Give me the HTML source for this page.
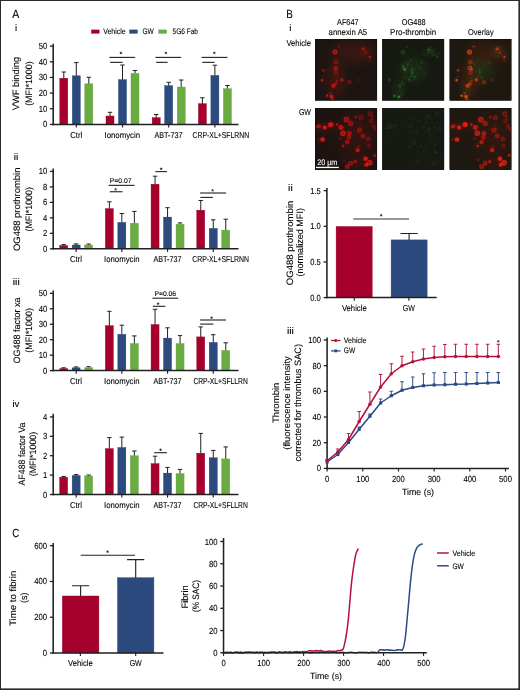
<!DOCTYPE html>
<html><head><meta charset="utf-8"><title>Figure</title>
<style>
html,body{margin:0;padding:0;background:#fff;}
svg{display:block;font-family:"Liberation Sans",sans-serif;opacity:0.999;will-change:transform;text-rendering:geometricPrecision;}
text{stroke:#000;stroke-width:0.1px;paint-order:stroke;}
</style></head><body>
<svg width="520" height="690" viewBox="0 0 520 690">
<rect x="0.5" y="0.5" width="518.75" height="688.75" fill="#fff" stroke="#2b2b2b" stroke-width="1"/>
<path d="M519.25 0V690M0 689.2H520" stroke="#2b2b2b" stroke-width="1.5" fill="none"/>
<text x="12.2" y="17.8" font-size="11.8" textLength="7" lengthAdjust="spacingAndGlyphs" fill="#000">A</text>
<text x="15.0" y="31.3" font-size="9.6" fill="#000">i</text>
<text x="13.8" y="160.2" font-size="9.6" textLength="4.6" lengthAdjust="spacingAndGlyphs" fill="#000">ii</text>
<text x="12.8" y="285.2" font-size="9.6" textLength="6.9" lengthAdjust="spacingAndGlyphs" fill="#000">iii</text>
<text x="12.4" y="406.9" font-size="9.6" fill="#000">iv</text>
<text x="12.2" y="537.0" font-size="11.8" textLength="7" lengthAdjust="spacingAndGlyphs" fill="#000">C</text>
<text x="286.2" y="17.8" font-size="11.8" textLength="6.6" lengthAdjust="spacingAndGlyphs" fill="#000">B</text>
<text x="289.3" y="31.3" font-size="9.6" fill="#000">i</text>
<text x="288.1" y="191.4" font-size="9.6" textLength="4.6" lengthAdjust="spacingAndGlyphs" fill="#000">ii</text>
<text x="286.9" y="334.0" font-size="9.6" textLength="6.9" lengthAdjust="spacingAndGlyphs" fill="#000">iii</text>
<rect x="91.40" y="29.90" width="7.80" height="3.40" fill="#A6002D" stroke="#98002a" stroke-width="0.4"/>
<text x="103.2" y="34.3" font-size="8.0" textLength="22.5" lengthAdjust="spacingAndGlyphs" fill="#000">Vehicle</text>
<rect x="129.60" y="29.90" width="7.80" height="3.40" fill="#2C4A7D" stroke="#1f3c78" stroke-width="0.4"/>
<text x="142.5" y="34.3" font-size="8.0" textLength="11.3" lengthAdjust="spacingAndGlyphs" fill="#000">GW</text>
<rect x="158.70" y="29.90" width="7.90" height="3.40" fill="#6AAC41" stroke="#5aa030" stroke-width="0.4"/>
<text x="172.5" y="34.3" font-size="8.0" textLength="25.5" lengthAdjust="spacingAndGlyphs" fill="#000">5G6 Fab</text>
<path d="M49.900000000000006 124.4L53.2 124.4" stroke="#202020" stroke-width="1.3"/>
<text x="47.2" y="127.4" font-size="8.8" text-anchor="end" textLength="4.28" lengthAdjust="spacingAndGlyphs" fill="#000">0</text>
<path d="M49.900000000000006 108.75L53.2 108.75" stroke="#202020" stroke-width="1.3"/>
<text x="47.2" y="111.75" font-size="8.8" text-anchor="end" textLength="8.56" lengthAdjust="spacingAndGlyphs" fill="#000">10</text>
<path d="M49.900000000000006 93.10000000000001L53.2 93.10000000000001" stroke="#202020" stroke-width="1.3"/>
<text x="47.2" y="96.10000000000001" font-size="8.8" text-anchor="end" textLength="8.56" lengthAdjust="spacingAndGlyphs" fill="#000">20</text>
<path d="M49.900000000000006 77.45000000000002L53.2 77.45000000000002" stroke="#202020" stroke-width="1.3"/>
<text x="47.2" y="80.45000000000002" font-size="8.8" text-anchor="end" textLength="8.56" lengthAdjust="spacingAndGlyphs" fill="#000">30</text>
<path d="M49.900000000000006 61.80000000000001L53.2 61.80000000000001" stroke="#202020" stroke-width="1.3"/>
<text x="47.2" y="64.80000000000001" font-size="8.8" text-anchor="end" textLength="8.56" lengthAdjust="spacingAndGlyphs" fill="#000">40</text>
<path d="M49.900000000000006 46.150000000000006L53.2 46.150000000000006" stroke="#202020" stroke-width="1.3"/>
<text x="47.2" y="49.150000000000006" font-size="8.8" text-anchor="end" textLength="8.56" lengthAdjust="spacingAndGlyphs" fill="#000">50</text>
<path d="M63.80 78.50V72.00M61.60 72.00H66.00" stroke="#202020" stroke-width="1" fill="none"/>
<rect x="59.80" y="78.20" width="8.00" height="46.20" fill="#A6002D" stroke="#98002a" stroke-width="0.4"/>
<path d="M76.30 76.10V62.60M74.10 62.60H78.50" stroke="#202020" stroke-width="1" fill="none"/>
<rect x="72.30" y="75.80" width="8.00" height="48.60" fill="#2C4A7D" stroke="#1f3c78" stroke-width="0.4"/>
<path d="M88.80 84.10V77.30M86.60 77.30H91.00" stroke="#202020" stroke-width="1" fill="none"/>
<rect x="84.80" y="83.80" width="8.00" height="40.60" fill="#6AAC41" stroke="#5aa030" stroke-width="0.4"/>
<path d="M76.3 124.4L76.3 127.5" stroke="#202020" stroke-width="1.15"/>
<text x="76.2" y="137.6" font-size="8.5" text-anchor="middle" textLength="12" lengthAdjust="spacingAndGlyphs" fill="#000">Ctrl</text>
<path d="M110.00 116.30V112.30M107.80 112.30H112.20" stroke="#202020" stroke-width="1" fill="none"/>
<rect x="106.00" y="116.00" width="8.00" height="8.40" fill="#A6002D" stroke="#98002a" stroke-width="0.4"/>
<path d="M122.50 80.00V65.00M120.30 65.00H124.70" stroke="#202020" stroke-width="1" fill="none"/>
<rect x="118.50" y="79.70" width="8.00" height="44.70" fill="#2C4A7D" stroke="#1f3c78" stroke-width="0.4"/>
<path d="M135.00 73.70V70.50M132.80 70.50H137.20" stroke="#202020" stroke-width="1" fill="none"/>
<rect x="131.00" y="73.40" width="8.00" height="51.00" fill="#6AAC41" stroke="#5aa030" stroke-width="0.4"/>
<path d="M122.5 124.4L122.5 127.5" stroke="#202020" stroke-width="1.15"/>
<text x="122.3" y="137.6" font-size="8.5" text-anchor="middle" textLength="35.5" lengthAdjust="spacingAndGlyphs" fill="#000">Ionomycin</text>
<path d="M156.20 118.00V114.50M154.00 114.50H158.40" stroke="#202020" stroke-width="1" fill="none"/>
<rect x="152.20" y="117.70" width="8.00" height="6.70" fill="#A6002D" stroke="#98002a" stroke-width="0.4"/>
<path d="M168.70 86.00V82.30M166.50 82.30H170.90" stroke="#202020" stroke-width="1" fill="none"/>
<rect x="164.70" y="85.70" width="8.00" height="38.70" fill="#2C4A7D" stroke="#1f3c78" stroke-width="0.4"/>
<path d="M181.20 87.30V80.00M179.00 80.00H183.40" stroke="#202020" stroke-width="1" fill="none"/>
<rect x="177.20" y="87.00" width="8.00" height="37.40" fill="#6AAC41" stroke="#5aa030" stroke-width="0.4"/>
<path d="M168.7 124.4L168.7 127.5" stroke="#202020" stroke-width="1.15"/>
<text x="168.5" y="137.6" font-size="8.5" text-anchor="middle" textLength="28" lengthAdjust="spacingAndGlyphs" fill="#000">ABT-737</text>
<path d="M202.40 104.00V97.80M200.20 97.80H204.60" stroke="#202020" stroke-width="1" fill="none"/>
<rect x="198.40" y="103.70" width="8.00" height="20.70" fill="#A6002D" stroke="#98002a" stroke-width="0.4"/>
<path d="M214.90 75.70V65.20M212.70 65.20H217.10" stroke="#202020" stroke-width="1" fill="none"/>
<rect x="210.90" y="75.40" width="8.00" height="49.00" fill="#2C4A7D" stroke="#1f3c78" stroke-width="0.4"/>
<path d="M227.40 89.00V85.50M225.20 85.50H229.60" stroke="#202020" stroke-width="1" fill="none"/>
<rect x="223.40" y="88.70" width="8.00" height="35.70" fill="#6AAC41" stroke="#5aa030" stroke-width="0.4"/>
<path d="M214.90000000000003 124.4L214.90000000000003 127.5" stroke="#202020" stroke-width="1.15"/>
<text x="220.9" y="137.6" font-size="8.5" text-anchor="middle" textLength="56.7" lengthAdjust="spacingAndGlyphs" fill="#000">CRP-XL+SFLRNN</text>
<path d="M53.2 43.8L53.2 125.15" stroke="#202020" stroke-width="1.55"/>
<path d="M52.5 124.4L238.5 124.4" stroke="#202020" stroke-width="1.5"/>
<text x="19.2" y="83.6" font-size="9.3" text-anchor="middle" textLength="53.5" lengthAdjust="spacingAndGlyphs" transform="rotate(-90 19.2 83.6)" fill="#000">VWF binding</text>
<text x="32.0" y="83.6" font-size="9.3" text-anchor="middle" textLength="44.5" lengthAdjust="spacingAndGlyphs" transform="rotate(-90 32.0 83.6)" fill="#000">(MFI*1000)</text>
<path d="M109.4 57.4L135.2 57.4" stroke="#202020" stroke-width="1.1"/>
<path d="M110.10000000000001 62.35L122.6 62.35" stroke="#202020" stroke-width="1.1"/>
<path d="M120.90 53.00L120.90 51.95M120.90 53.00L121.90 52.68M120.90 53.00L121.52 53.85M120.90 53.00L120.28 53.85M120.90 53.00L119.90 52.68" stroke="#222" stroke-width="0.6" stroke-linecap="round" fill="none"/><circle cx="120.90" cy="53.00" r="0.55" fill="#222"/>
<path d="M155.4 57.4L181.2 57.4" stroke="#202020" stroke-width="1.1"/>
<path d="M156.1 62.35L167.6 62.35" stroke="#202020" stroke-width="1.1"/>
<path d="M165.90 53.00L165.90 51.95M165.90 53.00L166.90 52.68M165.90 53.00L166.52 53.85M165.90 53.00L165.28 53.85M165.90 53.00L164.90 52.68" stroke="#222" stroke-width="0.6" stroke-linecap="round" fill="none"/><circle cx="165.90" cy="53.00" r="0.55" fill="#222"/>
<path d="M201.6 57.4L227.4 57.4" stroke="#202020" stroke-width="1.1"/>
<path d="M202.29999999999998 62.35L214.6 62.35" stroke="#202020" stroke-width="1.1"/>
<path d="M214.30 53.00L214.30 51.95M214.30 53.00L215.30 52.68M214.30 53.00L214.92 53.85M214.30 53.00L213.68 53.85M214.30 53.00L213.30 52.68" stroke="#222" stroke-width="0.6" stroke-linecap="round" fill="none"/><circle cx="214.30" cy="53.00" r="0.55" fill="#222"/>
<path d="M49.900000000000006 248.8L53.2 248.8" stroke="#202020" stroke-width="1.3"/>
<text x="47.2" y="251.8" font-size="8.8" text-anchor="end" textLength="4.28" lengthAdjust="spacingAndGlyphs" fill="#000">0</text>
<path d="M49.900000000000006 233.32000000000002L53.2 233.32000000000002" stroke="#202020" stroke-width="1.3"/>
<text x="47.2" y="236.32000000000002" font-size="8.8" text-anchor="end" textLength="4.28" lengthAdjust="spacingAndGlyphs" fill="#000">2</text>
<path d="M49.900000000000006 217.84L53.2 217.84" stroke="#202020" stroke-width="1.3"/>
<text x="47.2" y="220.84" font-size="8.8" text-anchor="end" textLength="4.28" lengthAdjust="spacingAndGlyphs" fill="#000">4</text>
<path d="M49.900000000000006 202.36L53.2 202.36" stroke="#202020" stroke-width="1.3"/>
<text x="47.2" y="205.36" font-size="8.8" text-anchor="end" textLength="4.28" lengthAdjust="spacingAndGlyphs" fill="#000">6</text>
<path d="M49.900000000000006 186.88L53.2 186.88" stroke="#202020" stroke-width="1.3"/>
<text x="47.2" y="189.88" font-size="8.8" text-anchor="end" textLength="4.28" lengthAdjust="spacingAndGlyphs" fill="#000">8</text>
<path d="M49.900000000000006 171.4L53.2 171.4" stroke="#202020" stroke-width="1.3"/>
<text x="47.2" y="174.4" font-size="8.8" text-anchor="end" textLength="8.56" lengthAdjust="spacingAndGlyphs" fill="#000">10</text>
<path d="M63.65 245.80V244.60M61.45 244.60H65.85" stroke="#202020" stroke-width="1" fill="none"/>
<rect x="59.65" y="245.50" width="8.00" height="3.30" fill="#A6002D" stroke="#98002a" stroke-width="0.4"/>
<path d="M76.15 245.30V243.90M73.95 243.90H78.35" stroke="#202020" stroke-width="1" fill="none"/>
<rect x="72.15" y="245.00" width="8.00" height="3.80" fill="#2C4A7D" stroke="#1f3c78" stroke-width="0.4"/>
<path d="M88.65 245.30V244.00M86.45 244.00H90.85" stroke="#202020" stroke-width="1" fill="none"/>
<rect x="84.65" y="245.00" width="8.00" height="3.80" fill="#6AAC41" stroke="#5aa030" stroke-width="0.4"/>
<path d="M76.15 248.8L76.15 251.9" stroke="#202020" stroke-width="1.15"/>
<text x="75.9" y="262.0" font-size="8.5" text-anchor="middle" textLength="12" lengthAdjust="spacingAndGlyphs" fill="#000">Ctrl</text>
<path d="M109.35 208.90V201.80M107.15 201.80H111.55" stroke="#202020" stroke-width="1" fill="none"/>
<rect x="105.35" y="208.60" width="8.00" height="40.20" fill="#A6002D" stroke="#98002a" stroke-width="0.4"/>
<path d="M121.85 222.70V213.50M119.65 213.50H124.05" stroke="#202020" stroke-width="1" fill="none"/>
<rect x="117.85" y="222.40" width="8.00" height="26.40" fill="#2C4A7D" stroke="#1f3c78" stroke-width="0.4"/>
<path d="M134.35 223.50V211.40M132.15 211.40H136.55" stroke="#202020" stroke-width="1" fill="none"/>
<rect x="130.35" y="223.20" width="8.00" height="25.60" fill="#6AAC41" stroke="#5aa030" stroke-width="0.4"/>
<path d="M121.85000000000001 248.8L121.85000000000001 251.9" stroke="#202020" stroke-width="1.15"/>
<text x="121.8" y="262.0" font-size="8.5" text-anchor="middle" textLength="35.5" lengthAdjust="spacingAndGlyphs" fill="#000">Ionomycin</text>
<path d="M155.05 184.50V176.20M152.85 176.20H157.25" stroke="#202020" stroke-width="1" fill="none"/>
<rect x="151.05" y="184.20" width="8.00" height="64.60" fill="#A6002D" stroke="#98002a" stroke-width="0.4"/>
<path d="M167.55 217.40V207.70M165.35 207.70H169.75" stroke="#202020" stroke-width="1" fill="none"/>
<rect x="163.55" y="217.10" width="8.00" height="31.70" fill="#2C4A7D" stroke="#1f3c78" stroke-width="0.4"/>
<path d="M180.05 224.60V222.90M177.85 222.90H182.25" stroke="#202020" stroke-width="1" fill="none"/>
<rect x="176.05" y="224.30" width="8.00" height="24.50" fill="#6AAC41" stroke="#5aa030" stroke-width="0.4"/>
<path d="M167.55 248.8L167.55 251.9" stroke="#202020" stroke-width="1.15"/>
<text x="167.5" y="262.0" font-size="8.5" text-anchor="middle" textLength="28" lengthAdjust="spacingAndGlyphs" fill="#000">ABT-737</text>
<path d="M200.75 210.50V200.50M198.55 200.50H202.95" stroke="#202020" stroke-width="1" fill="none"/>
<rect x="196.75" y="210.20" width="8.00" height="38.60" fill="#A6002D" stroke="#98002a" stroke-width="0.4"/>
<path d="M213.25 228.70V219.80M211.05 219.80H215.45" stroke="#202020" stroke-width="1" fill="none"/>
<rect x="209.25" y="228.40" width="8.00" height="20.40" fill="#2C4A7D" stroke="#1f3c78" stroke-width="0.4"/>
<path d="M225.75 230.40V219.20M223.55 219.20H227.95" stroke="#202020" stroke-width="1" fill="none"/>
<rect x="221.75" y="230.10" width="8.00" height="18.70" fill="#6AAC41" stroke="#5aa030" stroke-width="0.4"/>
<path d="M213.25000000000003 248.8L213.25000000000003 251.9" stroke="#202020" stroke-width="1.15"/>
<text x="220.6" y="262.0" font-size="8.5" text-anchor="middle" textLength="56.7" lengthAdjust="spacingAndGlyphs" fill="#000">CRP-XL+SFLRNN</text>
<path d="M53.2 168.6L53.2 249.55" stroke="#202020" stroke-width="1.55"/>
<path d="M52.5 248.8L238.5 248.8" stroke="#202020" stroke-width="1.5"/>
<text x="19.9" y="209.3" font-size="9.3" text-anchor="middle" textLength="83.5" lengthAdjust="spacingAndGlyphs" transform="rotate(-90 19.9 209.3)" fill="#000">OG488 prothrombin</text>
<text x="31.8" y="209.3" font-size="9.3" text-anchor="middle" textLength="44.5" lengthAdjust="spacingAndGlyphs" transform="rotate(-90 31.8 209.3)" fill="#000">(MFI*1000)</text>
<text x="109.8" y="182.6" font-size="6.9" textLength="21.8" lengthAdjust="spacingAndGlyphs" fill="#000">P=0.07</text>
<path d="M108.7 185.35L134.6 185.35" stroke="#202020" stroke-width="1.1"/>
<path d="M109.8 191.75L122.5 191.75" stroke="#202020" stroke-width="1.1"/>
<path d="M115.60 189.40L115.60 188.35M115.60 189.40L116.60 189.08M115.60 189.40L116.22 190.25M115.60 189.40L114.98 190.25M115.60 189.40L114.60 189.08" stroke="#222" stroke-width="0.6" stroke-linecap="round" fill="none"/><circle cx="115.60" cy="189.40" r="0.55" fill="#222"/>
<path d="M155.4 171.6L166.9 171.6" stroke="#202020" stroke-width="1.1"/>
<path d="M161.20 168.80L161.20 167.75M161.20 168.80L162.20 168.48M161.20 168.80L161.82 169.65M161.20 168.80L160.58 169.65M161.20 168.80L160.20 168.48" stroke="#222" stroke-width="0.6" stroke-linecap="round" fill="none"/><circle cx="161.20" cy="168.80" r="0.55" fill="#222"/>
<path d="M200.1 193.0L226.1 193.0" stroke="#202020" stroke-width="1.1"/>
<path d="M200.4 197.4L212.9 197.4" stroke="#202020" stroke-width="1.1"/>
<path d="M212.60 190.40L212.60 189.35M212.60 190.40L213.60 190.08M212.60 190.40L213.22 191.25M212.60 190.40L211.98 191.25M212.60 190.40L211.60 190.08" stroke="#222" stroke-width="0.6" stroke-linecap="round" fill="none"/><circle cx="212.60" cy="190.40" r="0.55" fill="#222"/>
<path d="M49.900000000000006 370.6L53.2 370.6" stroke="#202020" stroke-width="1.3"/>
<text x="47.2" y="373.6" font-size="8.8" text-anchor="end" textLength="4.28" lengthAdjust="spacingAndGlyphs" fill="#000">0</text>
<path d="M49.900000000000006 355.15000000000003L53.2 355.15000000000003" stroke="#202020" stroke-width="1.3"/>
<text x="47.2" y="358.15000000000003" font-size="8.8" text-anchor="end" textLength="8.56" lengthAdjust="spacingAndGlyphs" fill="#000">10</text>
<path d="M49.900000000000006 339.70000000000005L53.2 339.70000000000005" stroke="#202020" stroke-width="1.3"/>
<text x="47.2" y="342.70000000000005" font-size="8.8" text-anchor="end" textLength="8.56" lengthAdjust="spacingAndGlyphs" fill="#000">20</text>
<path d="M49.900000000000006 324.25L53.2 324.25" stroke="#202020" stroke-width="1.3"/>
<text x="47.2" y="327.25" font-size="8.8" text-anchor="end" textLength="8.56" lengthAdjust="spacingAndGlyphs" fill="#000">30</text>
<path d="M49.900000000000006 308.8L53.2 308.8" stroke="#202020" stroke-width="1.3"/>
<text x="47.2" y="311.8" font-size="8.8" text-anchor="end" textLength="8.56" lengthAdjust="spacingAndGlyphs" fill="#000">40</text>
<path d="M49.900000000000006 293.35L53.2 293.35" stroke="#202020" stroke-width="1.3"/>
<text x="47.2" y="296.35" font-size="8.8" text-anchor="end" textLength="8.56" lengthAdjust="spacingAndGlyphs" fill="#000">50</text>
<path d="M63.65 368.80V367.80M61.45 367.80H65.85" stroke="#202020" stroke-width="1" fill="none"/>
<rect x="59.45" y="368.30" width="8.40" height="2.30" fill="#A6002D"/>
<path d="M76.15 368.00V366.90M73.95 366.90H78.35" stroke="#202020" stroke-width="1" fill="none"/>
<rect x="71.95" y="367.50" width="8.40" height="3.10" fill="#2C4A7D"/>
<path d="M88.65 367.80V366.70M86.45 366.70H90.85" stroke="#202020" stroke-width="1" fill="none"/>
<rect x="84.45" y="367.30" width="8.40" height="3.30" fill="#6AAC41"/>
<path d="M76.15 370.6L76.15 373.70000000000005" stroke="#202020" stroke-width="1.15"/>
<text x="75.9" y="383.8" font-size="8.5" text-anchor="middle" textLength="12" lengthAdjust="spacingAndGlyphs" fill="#000">Ctrl</text>
<path d="M109.35 326.00V311.30M107.15 311.30H111.55" stroke="#202020" stroke-width="1" fill="none"/>
<rect x="105.35" y="325.70" width="8.00" height="44.90" fill="#A6002D" stroke="#98002a" stroke-width="0.4"/>
<path d="M121.85 334.60V325.20M119.65 325.20H124.05" stroke="#202020" stroke-width="1" fill="none"/>
<rect x="117.85" y="334.30" width="8.00" height="36.30" fill="#2C4A7D" stroke="#1f3c78" stroke-width="0.4"/>
<path d="M134.35 343.90V335.90M132.15 335.90H136.55" stroke="#202020" stroke-width="1" fill="none"/>
<rect x="130.35" y="343.60" width="8.00" height="27.00" fill="#6AAC41" stroke="#5aa030" stroke-width="0.4"/>
<path d="M121.85000000000001 370.6L121.85000000000001 373.70000000000005" stroke="#202020" stroke-width="1.15"/>
<text x="121.8" y="383.8" font-size="8.5" text-anchor="middle" textLength="35.5" lengthAdjust="spacingAndGlyphs" fill="#000">Ionomycin</text>
<path d="M155.05 324.80V309.30M152.85 309.30H157.25" stroke="#202020" stroke-width="1" fill="none"/>
<rect x="151.05" y="324.50" width="8.00" height="46.10" fill="#A6002D" stroke="#98002a" stroke-width="0.4"/>
<path d="M167.55 338.40V327.80M165.35 327.80H169.75" stroke="#202020" stroke-width="1" fill="none"/>
<rect x="163.55" y="338.10" width="8.00" height="32.50" fill="#2C4A7D" stroke="#1f3c78" stroke-width="0.4"/>
<path d="M180.05 343.90V335.60M177.85 335.60H182.25" stroke="#202020" stroke-width="1" fill="none"/>
<rect x="176.05" y="343.60" width="8.00" height="27.00" fill="#6AAC41" stroke="#5aa030" stroke-width="0.4"/>
<path d="M167.55 370.6L167.55 373.70000000000005" stroke="#202020" stroke-width="1.15"/>
<text x="167.5" y="383.8" font-size="8.5" text-anchor="middle" textLength="28" lengthAdjust="spacingAndGlyphs" fill="#000">ABT-737</text>
<path d="M200.75 337.20V326.90M198.55 326.90H202.95" stroke="#202020" stroke-width="1" fill="none"/>
<rect x="196.75" y="336.90" width="8.00" height="33.70" fill="#A6002D" stroke="#98002a" stroke-width="0.4"/>
<path d="M213.25 342.70V334.70M211.05 334.70H215.45" stroke="#202020" stroke-width="1" fill="none"/>
<rect x="209.25" y="342.40" width="8.00" height="28.20" fill="#2C4A7D" stroke="#1f3c78" stroke-width="0.4"/>
<path d="M225.75 350.80V342.80M223.55 342.80H227.95" stroke="#202020" stroke-width="1" fill="none"/>
<rect x="221.75" y="350.50" width="8.00" height="20.10" fill="#6AAC41" stroke="#5aa030" stroke-width="0.4"/>
<path d="M213.25000000000003 370.6L213.25000000000003 373.70000000000005" stroke="#202020" stroke-width="1.15"/>
<text x="220.6" y="383.8" font-size="8.5" text-anchor="middle" textLength="54.4" lengthAdjust="spacingAndGlyphs" fill="#000">CRP-XL+SFLLRN</text>
<path d="M53.2 290.5L53.2 371.35" stroke="#202020" stroke-width="1.55"/>
<path d="M52.5 370.6L238.5 370.6" stroke="#202020" stroke-width="1.5"/>
<text x="19.6" y="330.4" font-size="9.3" text-anchor="middle" textLength="66" lengthAdjust="spacingAndGlyphs" transform="rotate(-90 19.6 330.4)" fill="#000">OG488 factor xa</text>
<text x="32.0" y="330.4" font-size="9.3" text-anchor="middle" textLength="44.5" lengthAdjust="spacingAndGlyphs" transform="rotate(-90 32.0 330.4)" fill="#000">(MFI*1000)</text>
<text x="154.6" y="296.3" font-size="6.9" textLength="21.5" lengthAdjust="spacingAndGlyphs" fill="#000">P=0.06</text>
<path d="M152.4 298.2L178.1 298.2" stroke="#202020" stroke-width="1.1"/>
<path d="M152.8 306.3L165.4 306.3" stroke="#202020" stroke-width="1.1"/>
<path d="M158.10 303.70L158.10 302.65M158.10 303.70L159.10 303.38M158.10 303.70L158.72 304.55M158.10 303.70L157.48 304.55M158.10 303.70L157.10 303.38" stroke="#222" stroke-width="0.6" stroke-linecap="round" fill="none"/><circle cx="158.10" cy="303.70" r="0.55" fill="#222"/>
<path d="M200.1 320.0L226.0 320.0" stroke="#202020" stroke-width="1.1"/>
<path d="M200.1 324.1L213.4 324.1" stroke="#202020" stroke-width="1.1"/>
<path d="M211.60 317.70L211.60 316.65M211.60 317.70L212.60 317.38M211.60 317.70L212.22 318.55M211.60 317.70L210.98 318.55M211.60 317.70L210.60 317.38" stroke="#222" stroke-width="0.6" stroke-linecap="round" fill="none"/><circle cx="211.60" cy="317.70" r="0.55" fill="#222"/>
<path d="M49.900000000000006 494.5L53.2 494.5" stroke="#202020" stroke-width="1.3"/>
<text x="47.2" y="497.5" font-size="8.8" text-anchor="end" textLength="4.28" lengthAdjust="spacingAndGlyphs" fill="#000">0</text>
<path d="M49.900000000000006 475.1L53.2 475.1" stroke="#202020" stroke-width="1.3"/>
<text x="47.2" y="478.1" font-size="8.8" text-anchor="end" textLength="4.28" lengthAdjust="spacingAndGlyphs" fill="#000">1</text>
<path d="M49.900000000000006 455.7L53.2 455.7" stroke="#202020" stroke-width="1.3"/>
<text x="47.2" y="458.7" font-size="8.8" text-anchor="end" textLength="4.28" lengthAdjust="spacingAndGlyphs" fill="#000">2</text>
<path d="M49.900000000000006 436.3L53.2 436.3" stroke="#202020" stroke-width="1.3"/>
<text x="47.2" y="439.3" font-size="8.8" text-anchor="end" textLength="4.28" lengthAdjust="spacingAndGlyphs" fill="#000">3</text>
<path d="M49.900000000000006 416.9L53.2 416.9" stroke="#202020" stroke-width="1.3"/>
<text x="47.2" y="419.9" font-size="8.8" text-anchor="end" textLength="4.28" lengthAdjust="spacingAndGlyphs" fill="#000">4</text>
<path d="M63.65 477.50V476.40M61.45 476.40H65.85" stroke="#202020" stroke-width="1" fill="none"/>
<rect x="59.65" y="477.20" width="8.00" height="17.30" fill="#A6002D" stroke="#98002a" stroke-width="0.4"/>
<path d="M76.15 475.80V474.60M73.95 474.60H78.35" stroke="#202020" stroke-width="1" fill="none"/>
<rect x="72.15" y="475.50" width="8.00" height="19.00" fill="#2C4A7D" stroke="#1f3c78" stroke-width="0.4"/>
<path d="M88.65 476.20V475.00M86.45 475.00H90.85" stroke="#202020" stroke-width="1" fill="none"/>
<rect x="84.65" y="475.90" width="8.00" height="18.60" fill="#6AAC41" stroke="#5aa030" stroke-width="0.4"/>
<path d="M76.15 494.5L76.15 497.6" stroke="#202020" stroke-width="1.15"/>
<text x="75.9" y="507.7" font-size="8.5" text-anchor="middle" textLength="12" lengthAdjust="spacingAndGlyphs" fill="#000">Ctrl</text>
<path d="M109.35 448.90V437.60M107.15 437.60H111.55" stroke="#202020" stroke-width="1" fill="none"/>
<rect x="105.35" y="448.60" width="8.00" height="45.90" fill="#A6002D" stroke="#98002a" stroke-width="0.4"/>
<path d="M121.85 447.80V437.10M119.65 437.10H124.05" stroke="#202020" stroke-width="1" fill="none"/>
<rect x="117.85" y="447.50" width="8.00" height="47.00" fill="#2C4A7D" stroke="#1f3c78" stroke-width="0.4"/>
<path d="M134.35 456.10V451.00M132.15 451.00H136.55" stroke="#202020" stroke-width="1" fill="none"/>
<rect x="130.35" y="455.80" width="8.00" height="38.70" fill="#6AAC41" stroke="#5aa030" stroke-width="0.4"/>
<path d="M121.85000000000001 494.5L121.85000000000001 497.6" stroke="#202020" stroke-width="1.15"/>
<text x="121.8" y="507.7" font-size="8.5" text-anchor="middle" textLength="35.5" lengthAdjust="spacingAndGlyphs" fill="#000">Ionomycin</text>
<path d="M155.05 463.90V456.20M152.85 456.20H157.25" stroke="#202020" stroke-width="1" fill="none"/>
<rect x="151.05" y="463.60" width="8.00" height="30.90" fill="#A6002D" stroke="#98002a" stroke-width="0.4"/>
<path d="M167.55 473.40V467.40M165.35 467.40H169.75" stroke="#202020" stroke-width="1" fill="none"/>
<rect x="163.55" y="473.10" width="8.00" height="21.40" fill="#2C4A7D" stroke="#1f3c78" stroke-width="0.4"/>
<path d="M180.05 474.00V469.40M177.85 469.40H182.25" stroke="#202020" stroke-width="1" fill="none"/>
<rect x="176.05" y="473.70" width="8.00" height="20.80" fill="#6AAC41" stroke="#5aa030" stroke-width="0.4"/>
<path d="M167.55 494.5L167.55 497.6" stroke="#202020" stroke-width="1.15"/>
<text x="167.5" y="507.7" font-size="8.5" text-anchor="middle" textLength="28" lengthAdjust="spacingAndGlyphs" fill="#000">ABT-737</text>
<path d="M200.75 453.50V433.40M198.55 433.40H202.95" stroke="#202020" stroke-width="1" fill="none"/>
<rect x="196.75" y="453.20" width="8.00" height="41.30" fill="#A6002D" stroke="#98002a" stroke-width="0.4"/>
<path d="M213.25 458.10V450.40M211.05 450.40H215.45" stroke="#202020" stroke-width="1" fill="none"/>
<rect x="209.25" y="457.80" width="8.00" height="36.70" fill="#2C4A7D" stroke="#1f3c78" stroke-width="0.4"/>
<path d="M225.75 459.20V446.90M223.55 446.90H227.95" stroke="#202020" stroke-width="1" fill="none"/>
<rect x="221.75" y="458.90" width="8.00" height="35.60" fill="#6AAC41" stroke="#5aa030" stroke-width="0.4"/>
<path d="M213.25000000000003 494.5L213.25000000000003 497.6" stroke="#202020" stroke-width="1.15"/>
<text x="220.6" y="507.7" font-size="8.5" text-anchor="middle" textLength="54.4" lengthAdjust="spacingAndGlyphs" fill="#000">CRP-XL+SFLLRN</text>
<path d="M53.2 413.8L53.2 495.25" stroke="#202020" stroke-width="1.55"/>
<path d="M52.5 494.5L238.5 494.5" stroke="#202020" stroke-width="1.5"/>
<text x="24.5" y="454.0" font-size="9.3" text-anchor="middle" textLength="63" lengthAdjust="spacingAndGlyphs" transform="rotate(-90 24.5 454.0)" fill="#000">AF488 factor Va</text>
<text x="36.0" y="454.0" font-size="9.3" text-anchor="middle" textLength="44.5" lengthAdjust="spacingAndGlyphs" transform="rotate(-90 36.0 454.0)" fill="#000">(MFI*1000)</text>
<path d="M154.2 452.7L166.9 452.7" stroke="#202020" stroke-width="1.1"/>
<path d="M160.60 449.80L160.60 448.75M160.60 449.80L161.60 449.48M160.60 449.80L161.22 450.65M160.60 449.80L159.98 450.65M160.60 449.80L159.60 449.48" stroke="#222" stroke-width="0.6" stroke-linecap="round" fill="none"/><circle cx="160.60" cy="449.80" r="0.55" fill="#222"/>
<path d="M49.900000000000006 653.0L53.2 653.0" stroke="#202020" stroke-width="1.3"/>
<text x="47.1" y="656.0" font-size="8.8" text-anchor="end" textLength="4.28" lengthAdjust="spacingAndGlyphs" fill="#000">0</text>
<path d="M49.900000000000006 617.23L53.2 617.23" stroke="#202020" stroke-width="1.3"/>
<text x="47.1" y="620.23" font-size="8.8" text-anchor="end" textLength="12.84" lengthAdjust="spacingAndGlyphs" fill="#000">200</text>
<path d="M49.900000000000006 581.46L53.2 581.46" stroke="#202020" stroke-width="1.3"/>
<text x="47.1" y="584.46" font-size="8.8" text-anchor="end" textLength="12.84" lengthAdjust="spacingAndGlyphs" fill="#000">400</text>
<path d="M49.900000000000006 545.69L53.2 545.69" stroke="#202020" stroke-width="1.3"/>
<text x="47.1" y="548.69" font-size="8.8" text-anchor="end" textLength="12.84" lengthAdjust="spacingAndGlyphs" fill="#000">600</text>
<path d="M80.60 596.30V585.70M72.00 585.70H89.20" stroke="#202020" stroke-width="1.1" fill="none"/>
<rect x="62.30" y="596.00" width="36.60" height="57.00" fill="#A6002D" stroke="#98002a" stroke-width="0.4"/>
<path d="M135.70 578.00V559.60M127.10 559.60H144.30" stroke="#202020" stroke-width="1.1" fill="none"/>
<rect x="117.50" y="577.70" width="36.40" height="75.30" fill="#2C4A7D" stroke="#1f3c78" stroke-width="0.4"/>
<path d="M80.4 653.0L80.4 656.1" stroke="#202020" stroke-width="1.15"/>
<text x="80.4" y="666.2" font-size="8.5" text-anchor="middle" textLength="24.8" lengthAdjust="spacingAndGlyphs" fill="#000">Vehicle</text>
<path d="M135.7 653.0L135.7 656.1" stroke="#202020" stroke-width="1.15"/>
<text x="135.7" y="666.2" font-size="8.5" text-anchor="middle" textLength="12.1" lengthAdjust="spacingAndGlyphs" fill="#000">GW</text>
<path d="M53.2 542.9L53.2 653.75" stroke="#202020" stroke-width="1.55"/>
<path d="M52.5 653.0L163.5 653.0" stroke="#202020" stroke-width="1.5"/>
<text x="15.6" y="598.3" font-size="9.3" text-anchor="middle" textLength="55.2" lengthAdjust="spacingAndGlyphs" transform="rotate(-90 15.6 598.3)" fill="#000">Time to fibrin</text>
<text x="27.2" y="597.8" font-size="9.3" text-anchor="middle" textLength="10.5" lengthAdjust="spacingAndGlyphs" transform="rotate(-90 27.2 597.8)" fill="#000">(s)</text>
<path d="M80.7 555.3L135.0 555.3" stroke="#202020" stroke-width="1.1"/>
<path d="M107.60 551.70L107.60 550.65M107.60 551.70L108.60 551.38M107.60 551.70L108.22 552.55M107.60 551.70L106.98 552.55M107.60 551.70L106.60 551.38" stroke="#222" stroke-width="0.6" stroke-linecap="round" fill="none"/><circle cx="107.60" cy="551.70" r="0.55" fill="#222"/>
<path d="M323.59999999999997 297.6L326.9 297.6" stroke="#202020" stroke-width="1.3"/>
<text x="320.79999999999995" y="300.6" font-size="8.8" text-anchor="end" textLength="10.56" lengthAdjust="spacingAndGlyphs" fill="#000">0.0</text>
<path d="M323.59999999999997 261.95000000000005L326.9 261.95000000000005" stroke="#202020" stroke-width="1.3"/>
<text x="320.79999999999995" y="264.95000000000005" font-size="8.8" text-anchor="end" textLength="10.56" lengthAdjust="spacingAndGlyphs" fill="#000">0.5</text>
<path d="M323.59999999999997 226.3L326.9 226.3" stroke="#202020" stroke-width="1.3"/>
<text x="320.79999999999995" y="229.3" font-size="8.8" text-anchor="end" textLength="10.56" lengthAdjust="spacingAndGlyphs" fill="#000">1.0</text>
<path d="M323.59999999999997 190.65000000000003L326.9 190.65000000000003" stroke="#202020" stroke-width="1.3"/>
<text x="320.79999999999995" y="193.65000000000003" font-size="8.8" text-anchor="end" textLength="10.56" lengthAdjust="spacingAndGlyphs" fill="#000">1.5</text>
<rect x="336.10" y="226.50" width="36.10" height="71.10" fill="#A6002D" stroke="#98002a" stroke-width="0.4"/>
<path d="M409.10 240.20V233.50M400.50 233.50H417.70" stroke="#202020" stroke-width="1.1" fill="none"/>
<rect x="391.10" y="239.90" width="36.00" height="57.70" fill="#2C4A7D" stroke="#1f3c78" stroke-width="0.4"/>
<path d="M354.3 297.6L354.3 300.70000000000005" stroke="#202020" stroke-width="1.15"/>
<text x="354.3" y="310.8" font-size="8.5" text-anchor="middle" textLength="24.8" lengthAdjust="spacingAndGlyphs" fill="#000">Vehicle</text>
<path d="M408.9 297.6L408.9 300.70000000000005" stroke="#202020" stroke-width="1.15"/>
<text x="408.9" y="310.8" font-size="8.5" text-anchor="middle" textLength="12.1" lengthAdjust="spacingAndGlyphs" fill="#000">GW</text>
<path d="M326.9 188.1L326.9 298.35" stroke="#202020" stroke-width="1.55"/>
<path d="M326.2 297.6L436.7 297.6" stroke="#202020" stroke-width="1.5"/>
<text x="293.4" y="242.9" font-size="9.3" text-anchor="middle" textLength="84.5" lengthAdjust="spacingAndGlyphs" transform="rotate(-90 293.4 242.9)" fill="#000">OG488 prothrombin</text>
<text x="303.4" y="242.3" font-size="9.3" text-anchor="middle" textLength="68.5" lengthAdjust="spacingAndGlyphs" transform="rotate(-90 303.4 242.3)" fill="#000">(normalized MFI)</text>
<path d="M353.2 219.0L409.0 219.0" stroke="#333" stroke-width="1.1"/>
<path d="M381.20 215.30L381.20 214.25M381.20 215.30L382.20 214.98M381.20 215.30L381.82 216.15M381.20 215.30L380.58 216.15M381.20 215.30L380.20 214.98" stroke="#222" stroke-width="0.6" stroke-linecap="round" fill="none"/><circle cx="381.20" cy="215.30" r="0.55" fill="#222"/>
<defs>
<filter id="b1" x="-50%" y="-50%" width="200%" height="200%"><feGaussianBlur stdDeviation="0.6"/></filter>
<filter id="b2" x="-50%" y="-50%" width="200%" height="200%"><feGaussianBlur stdDeviation="1.3"/></filter>
<filter id="b5" x="-50%" y="-50%" width="200%" height="200%"><feGaussianBlur stdDeviation="4.5"/></filter>
<filter id="b3" x="-50%" y="-50%" width="200%" height="200%"><feGaussianBlur stdDeviation="0.75"/></filter>
<clipPath id="cp"><rect x="0" y="0" width="62.2" height="61.8"/></clipPath>
</defs>
<g transform="translate(315.0 39.0)"><g clip-path="url(#cp)"><rect x="0" y="0" width="62.2" height="61.8" fill="#1d1512"/>
<radialGradient id="hz1"><stop offset="0" stop-color="rgb(125,30,15)" stop-opacity="0.3"/><stop offset="0.55" stop-color="rgb(125,30,15)" stop-opacity="0.165"/><stop offset="1" stop-color="rgb(125,30,15)" stop-opacity="0"/></radialGradient><ellipse cx="38" cy="14" rx="28" ry="16" fill="url(#hz1)"/><radialGradient id="hz2"><stop offset="0" stop-color="rgb(125,25,15)" stop-opacity="0.36"/><stop offset="0.55" stop-color="rgb(125,25,15)" stop-opacity="0.198"/><stop offset="1" stop-color="rgb(125,25,15)" stop-opacity="0"/></radialGradient><ellipse cx="21" cy="40" rx="13" ry="25" fill="url(#hz2)"/><radialGradient id="hz3"><stop offset="0" stop-color="rgb(125,25,15)" stop-opacity="0.2"/><stop offset="0.55" stop-color="rgb(125,25,15)" stop-opacity="0.110"/><stop offset="1" stop-color="rgb(125,25,15)" stop-opacity="0"/></radialGradient><ellipse cx="50" cy="14" rx="9" ry="9" fill="url(#hz3)"/>
<g filter="url(#b2)"><circle cx="20" cy="13.1" r="2.63" fill="rgb(200,20,20)" fill-opacity="0.27"/><circle cx="23.9" cy="7.3" r="1.87" fill="rgb(200,20,20)" fill-opacity="0.14"/><circle cx="48.1" cy="9.8" r="2.38" fill="rgb(200,20,20)" fill-opacity="0.21"/><circle cx="54.9" cy="18" r="1.78" fill="rgb(200,20,20)" fill-opacity="0.30"/><circle cx="55" cy="21.3" r="1.87" fill="rgb(200,20,20)" fill-opacity="0.09"/><circle cx="21" cy="22.9" r="2.46" fill="rgb(200,20,20)" fill-opacity="0.14"/><circle cx="20.7" cy="29.2" r="2.46" fill="rgb(200,20,20)" fill-opacity="0.22"/><circle cx="20.9" cy="33.7" r="2.46" fill="rgb(200,20,20)" fill-opacity="0.12"/><circle cx="8.6" cy="31.4" r="1.95" fill="rgb(200,20,20)" fill-opacity="0.21"/><circle cx="7.1" cy="41.2" r="1.95" fill="rgb(200,20,20)" fill-opacity="0.30"/><circle cx="8.2" cy="37.7" r="1.53" fill="rgb(200,20,20)" fill-opacity="0.12"/><circle cx="26.9" cy="40.7" r="2.29" fill="rgb(200,20,20)" fill-opacity="0.26"/><circle cx="34.4" cy="43.2" r="2.29" fill="rgb(200,20,20)" fill-opacity="0.14"/><circle cx="22" cy="42.2" r="2.12" fill="rgb(200,20,20)" fill-opacity="0.12"/><circle cx="18.4" cy="46.8" r="2.80" fill="rgb(200,20,20)" fill-opacity="0.26"/><circle cx="20.7" cy="44.9" r="2.12" fill="rgb(200,20,20)" fill-opacity="0.18"/><circle cx="12.2" cy="56.6" r="1.95" fill="rgb(200,20,20)" fill-opacity="0.30"/><circle cx="16.5" cy="57.5" r="2.63" fill="rgb(200,20,20)" fill-opacity="0.28"/><circle cx="15.4" cy="54" r="2.04" fill="rgb(200,20,20)" fill-opacity="0.14"/><circle cx="17.5" cy="60.5" r="2.12" fill="rgb(200,20,20)" fill-opacity="0.24"/><circle cx="61.9" cy="57.9" r="1.53" fill="rgb(200,20,20)" fill-opacity="0.18"/><circle cx="50.5" cy="13.5" r="1.95" fill="rgb(200,20,20)" fill-opacity="0.09"/><circle cx="43" cy="41" r="2.04" fill="rgb(200,20,20)" fill-opacity="0.06"/></g>
<g filter="url(#b3)"><circle cx="20" cy="13.1" r="1.95" fill="rgb(205,24,24)" fill-opacity="0.36" stroke="rgb(205,24,24)" stroke-opacity="0.79" stroke-width="1.2"/><circle cx="23.9" cy="7.3" r="1.10" fill="rgb(205,24,24)" fill-opacity="0.40"/><circle cx="48.1" cy="9.8" r="1.61" fill="rgb(205,24,24)" fill-opacity="0.62"/><circle cx="54.9" cy="18" r="1.02" fill="rgb(205,24,24)" fill-opacity="0.88"/><circle cx="55" cy="21.3" r="1.10" fill="rgb(205,24,24)" fill-opacity="0.26"/><circle cx="21" cy="22.9" r="1.75" fill="rgb(205,24,24)" fill-opacity="0.18" stroke="rgb(205,24,24)" stroke-opacity="0.40" stroke-width="1.2"/><circle cx="20.7" cy="29.2" r="1.75" fill="rgb(205,24,24)" fill-opacity="0.30" stroke="rgb(205,24,24)" stroke-opacity="0.66" stroke-width="1.2"/><circle cx="20.9" cy="33.7" r="1.75" fill="rgb(205,24,24)" fill-opacity="0.16" stroke="rgb(205,24,24)" stroke-opacity="0.35" stroke-width="1.2"/><circle cx="8.6" cy="31.4" r="1.19" fill="rgb(205,24,24)" fill-opacity="0.62"/><circle cx="7.1" cy="41.2" r="1.19" fill="rgb(205,24,24)" fill-opacity="0.88"/><circle cx="8.2" cy="37.7" r="0.77" fill="rgb(205,24,24)" fill-opacity="0.35"/><circle cx="26.9" cy="40.7" r="1.53" fill="rgb(205,24,24)" fill-opacity="0.75"/><circle cx="34.4" cy="43.2" r="1.55" fill="rgb(205,24,24)" fill-opacity="0.18" stroke="rgb(205,24,24)" stroke-opacity="0.40" stroke-width="1.2"/><circle cx="22" cy="42.2" r="1.36" fill="rgb(205,24,24)" fill-opacity="0.35"/><circle cx="18.4" cy="46.8" r="2.04" fill="rgb(205,24,24)" fill-opacity="0.75"/><circle cx="20.7" cy="44.9" r="1.36" fill="rgb(205,24,24)" fill-opacity="0.53"/><circle cx="12.2" cy="56.6" r="1.19" fill="rgb(205,24,24)" fill-opacity="0.88"/><circle cx="16.5" cy="57.5" r="1.87" fill="rgb(205,24,24)" fill-opacity="0.84"/><circle cx="15.4" cy="54" r="1.27" fill="rgb(205,24,24)" fill-opacity="0.40"/><circle cx="17.5" cy="60.5" r="1.36" fill="rgb(205,24,24)" fill-opacity="0.70"/><circle cx="61.9" cy="57.9" r="0.77" fill="rgb(205,24,24)" fill-opacity="0.53"/><circle cx="50.5" cy="13.5" r="1.15" fill="rgb(205,24,24)" fill-opacity="0.12" stroke="rgb(205,24,24)" stroke-opacity="0.26" stroke-width="1.2"/><circle cx="43" cy="41" r="1.25" fill="rgb(205,24,24)" fill-opacity="0.08" stroke="rgb(205,24,24)" stroke-opacity="0.18" stroke-width="1.2"/></g>
<rect x="0.3" y="0.3" width="61.6" height="61.2" fill="none" stroke="#0a0a08" stroke-width="0.6"/>
</g></g>
<g transform="translate(382.1 39.0)"><g clip-path="url(#cp)"><rect x="0" y="0" width="62.2" height="61.8" fill="#151911"/>
<radialGradient id="hz4"><stop offset="0" stop-color="rgb(55,120,45)" stop-opacity="0.2"/><stop offset="0.55" stop-color="rgb(55,120,45)" stop-opacity="0.110"/><stop offset="1" stop-color="rgb(55,120,45)" stop-opacity="0"/></radialGradient><ellipse cx="31" cy="31" rx="19" ry="18" fill="url(#hz4)"/><radialGradient id="hz5"><stop offset="0" stop-color="rgb(55,120,45)" stop-opacity="0.14"/><stop offset="0.55" stop-color="rgb(55,120,45)" stop-opacity="0.077"/><stop offset="1" stop-color="rgb(55,120,45)" stop-opacity="0"/></radialGradient><ellipse cx="17" cy="50" rx="9" ry="13" fill="url(#hz5)"/><radialGradient id="hz6"><stop offset="0" stop-color="rgb(55,120,45)" stop-opacity="0.12"/><stop offset="0.55" stop-color="rgb(55,120,45)" stop-opacity="0.066"/><stop offset="1" stop-color="rgb(55,120,45)" stop-opacity="0"/></radialGradient><ellipse cx="48" cy="13" rx="10" ry="8" fill="url(#hz6)"/>
<g filter="url(#b3)"><circle cx="31.7" cy="40.3" r="0.90" fill="rgb(60,150,50)" fill-opacity="0.16"/><circle cx="29.2" cy="30.3" r="0.69" fill="rgb(60,150,50)" fill-opacity="0.18"/><circle cx="30.7" cy="37.0" r="1.27" fill="rgb(60,150,50)" fill-opacity="0.14"/><circle cx="35.3" cy="25.4" r="1.06" fill="rgb(60,150,50)" fill-opacity="0.10"/><circle cx="23.1" cy="23.7" r="0.99" fill="rgb(60,150,50)" fill-opacity="0.18"/><circle cx="29.8" cy="30.0" r="1.13" fill="rgb(60,150,50)" fill-opacity="0.15"/><circle cx="30.5" cy="33.4" r="1.20" fill="rgb(60,150,50)" fill-opacity="0.14"/><circle cx="28.7" cy="21.1" r="1.10" fill="rgb(60,150,50)" fill-opacity="0.20"/><circle cx="22.0" cy="38.4" r="0.94" fill="rgb(60,150,50)" fill-opacity="0.20"/><circle cx="33.3" cy="30.0" r="0.77" fill="rgb(60,150,50)" fill-opacity="0.10"/><circle cx="38.7" cy="30.4" r="1.05" fill="rgb(60,150,50)" fill-opacity="0.12"/><circle cx="23.7" cy="31.7" r="0.89" fill="rgb(60,150,50)" fill-opacity="0.15"/><circle cx="20.4" cy="26.3" r="1.09" fill="rgb(60,150,50)" fill-opacity="0.20"/><circle cx="39.0" cy="22.6" r="1.08" fill="rgb(60,150,50)" fill-opacity="0.10"/><circle cx="39.1" cy="23.0" r="1.22" fill="rgb(60,150,50)" fill-opacity="0.15"/><circle cx="29.8" cy="27.4" r="1.17" fill="rgb(60,150,50)" fill-opacity="0.15"/><circle cx="30.5" cy="34.2" r="1.19" fill="rgb(60,150,50)" fill-opacity="0.21"/><circle cx="40.7" cy="37.5" r="0.93" fill="rgb(60,150,50)" fill-opacity="0.10"/><circle cx="28.0" cy="41.9" r="1.20" fill="rgb(60,150,50)" fill-opacity="0.09"/><circle cx="29.5" cy="30.8" r="1.10" fill="rgb(60,150,50)" fill-opacity="0.12"/><circle cx="40.4" cy="23.9" r="0.98" fill="rgb(60,150,50)" fill-opacity="0.21"/><circle cx="30.0" cy="34.4" r="1.04" fill="rgb(60,150,50)" fill-opacity="0.09"/><circle cx="33.5" cy="38.6" r="1.05" fill="rgb(60,150,50)" fill-opacity="0.10"/><circle cx="42.5" cy="34.9" r="0.87" fill="rgb(60,150,50)" fill-opacity="0.20"/><circle cx="36.8" cy="28.0" r="0.95" fill="rgb(60,150,50)" fill-opacity="0.14"/><circle cx="25.1" cy="25.1" r="1.01" fill="rgb(60,150,50)" fill-opacity="0.16"/><circle cx="39.1" cy="29.1" r="0.94" fill="rgb(60,150,50)" fill-opacity="0.18"/><circle cx="31.5" cy="37.8" r="1.26" fill="rgb(60,150,50)" fill-opacity="0.14"/><circle cx="30.2" cy="31.8" r="0.93" fill="rgb(60,150,50)" fill-opacity="0.15"/><circle cx="40.6" cy="33.1" r="1.05" fill="rgb(60,150,50)" fill-opacity="0.09"/><circle cx="25.3" cy="26.6" r="1.09" fill="rgb(60,150,50)" fill-opacity="0.13"/><circle cx="28.1" cy="22.4" r="0.70" fill="rgb(60,150,50)" fill-opacity="0.09"/><circle cx="25.3" cy="21.5" r="0.83" fill="rgb(60,150,50)" fill-opacity="0.14"/><circle cx="25.5" cy="28.7" r="0.89" fill="rgb(60,150,50)" fill-opacity="0.12"/><circle cx="24.5" cy="38.4" r="0.86" fill="rgb(60,150,50)" fill-opacity="0.13"/><circle cx="31.2" cy="30.6" r="1.02" fill="rgb(60,150,50)" fill-opacity="0.18"/><circle cx="29.1" cy="36.5" r="1.16" fill="rgb(60,150,50)" fill-opacity="0.11"/><circle cx="34.0" cy="38.7" r="1.10" fill="rgb(60,150,50)" fill-opacity="0.10"/><circle cx="28.1" cy="37.6" r="1.17" fill="rgb(60,150,50)" fill-opacity="0.14"/><circle cx="33.8" cy="28.7" r="0.88" fill="rgb(60,150,50)" fill-opacity="0.16"/><circle cx="52.7" cy="11.5" r="0.82" fill="rgb(60,150,50)" fill-opacity="0.10"/><circle cx="46.1" cy="13.6" r="1.16" fill="rgb(60,150,50)" fill-opacity="0.18"/><circle cx="50.5" cy="16.5" r="1.16" fill="rgb(60,150,50)" fill-opacity="0.15"/><circle cx="50.5" cy="11.0" r="0.76" fill="rgb(60,150,50)" fill-opacity="0.11"/><circle cx="50.0" cy="11.4" r="0.88" fill="rgb(60,150,50)" fill-opacity="0.13"/><circle cx="44.9" cy="15.7" r="1.22" fill="rgb(60,150,50)" fill-opacity="0.10"/><circle cx="56.7" cy="14.2" r="1.21" fill="rgb(60,150,50)" fill-opacity="0.19"/><circle cx="41.9" cy="16.3" r="1.23" fill="rgb(60,150,50)" fill-opacity="0.10"/><circle cx="48.8" cy="8.6" r="1.07" fill="rgb(60,150,50)" fill-opacity="0.14"/><circle cx="48.0" cy="17.1" r="0.82" fill="rgb(60,150,50)" fill-opacity="0.09"/><circle cx="16.0" cy="46.7" r="1.16" fill="rgb(60,150,50)" fill-opacity="0.09"/><circle cx="21.3" cy="44.9" r="1.23" fill="rgb(60,150,50)" fill-opacity="0.18"/><circle cx="20.9" cy="45.2" r="0.69" fill="rgb(60,150,50)" fill-opacity="0.16"/><circle cx="19.1" cy="52.9" r="1.07" fill="rgb(60,150,50)" fill-opacity="0.14"/><circle cx="13.9" cy="53.5" r="1.05" fill="rgb(60,150,50)" fill-opacity="0.12"/><circle cx="17.9" cy="57.2" r="0.96" fill="rgb(60,150,50)" fill-opacity="0.17"/><circle cx="16.9" cy="51.7" r="0.99" fill="rgb(60,150,50)" fill-opacity="0.17"/><circle cx="20.1" cy="55.9" r="1.23" fill="rgb(60,150,50)" fill-opacity="0.17"/><circle cx="18.1" cy="48.6" r="1.05" fill="rgb(60,150,50)" fill-opacity="0.18"/><circle cx="20.2" cy="50.3" r="0.84" fill="rgb(60,150,50)" fill-opacity="0.14"/><circle cx="20.6" cy="11.2" r="1.14" fill="rgb(60,150,50)" fill-opacity="0.06"/><circle cx="25.6" cy="10.4" r="0.76" fill="rgb(60,150,50)" fill-opacity="0.07"/><circle cx="29.4" cy="9.4" r="0.73" fill="rgb(60,150,50)" fill-opacity="0.10"/><circle cx="22.8" cy="11.8" r="0.89" fill="rgb(60,150,50)" fill-opacity="0.10"/><circle cx="21.2" cy="8.9" r="0.79" fill="rgb(60,150,50)" fill-opacity="0.09"/><circle cx="27.0" cy="12.0" r="1.10" fill="rgb(60,150,50)" fill-opacity="0.09"/></g>
<g filter="url(#b2)"><circle cx="46.8" cy="10.9" r="1.70" fill="rgb(70,180,60)" fill-opacity="0.20"/><circle cx="25.2" cy="7.6" r="1.87" fill="rgb(70,180,60)" fill-opacity="0.08"/><circle cx="20.7" cy="13.5" r="2.63" fill="rgb(70,180,60)" fill-opacity="0.07"/><circle cx="55.3" cy="18" r="1.61" fill="rgb(70,180,60)" fill-opacity="0.13"/><circle cx="22.6" cy="30.5" r="2.12" fill="rgb(70,180,60)" fill-opacity="0.20"/><circle cx="21.3" cy="27.9" r="1.87" fill="rgb(70,180,60)" fill-opacity="0.13"/><circle cx="7.3" cy="40.9" r="1.61" fill="rgb(70,180,60)" fill-opacity="0.18"/><circle cx="27.2" cy="40.3" r="1.95" fill="rgb(70,180,60)" fill-opacity="0.09"/><circle cx="18" cy="46.6" r="2.04" fill="rgb(70,180,60)" fill-opacity="0.09"/><circle cx="12.2" cy="56.9" r="1.78" fill="rgb(70,180,60)" fill-opacity="0.20"/><circle cx="16.7" cy="57.9" r="2.04" fill="rgb(70,180,60)" fill-opacity="0.20"/><circle cx="50" cy="13.5" r="1.78" fill="rgb(70,180,60)" fill-opacity="0.08"/><circle cx="52.5" cy="16" r="1.61" fill="rgb(70,180,60)" fill-opacity="0.08"/><circle cx="30" cy="33" r="1.78" fill="rgb(70,180,60)" fill-opacity="0.07"/><circle cx="33" cy="38" r="1.78" fill="rgb(70,180,60)" fill-opacity="0.07"/><circle cx="26" cy="25" r="1.78" fill="rgb(70,180,60)" fill-opacity="0.07"/><circle cx="20" cy="43" r="1.78" fill="rgb(70,180,60)" fill-opacity="0.08"/></g>
<g filter="url(#b1)"><circle cx="46.8" cy="10.9" r="0.79" fill="rgb(75,185,65)" fill-opacity="0.56"/><circle cx="25.2" cy="7.6" r="0.94" fill="rgb(75,185,65)" fill-opacity="0.22"/><circle cx="20.7" cy="13.5" r="1.62" fill="rgb(75,185,65)" fill-opacity="0.06" stroke="rgb(75,185,65)" stroke-opacity="0.19" stroke-width="0.9"/><circle cx="55.3" cy="18" r="0.72" fill="rgb(75,185,65)" fill-opacity="0.37"/><circle cx="22.6" cy="30.5" r="1.16" fill="rgb(75,185,65)" fill-opacity="0.56"/><circle cx="21.3" cy="27.9" r="0.94" fill="rgb(75,185,65)" fill-opacity="0.37"/><circle cx="7.3" cy="40.9" r="0.72" fill="rgb(75,185,65)" fill-opacity="0.50"/><circle cx="27.2" cy="40.3" r="1.01" fill="rgb(75,185,65)" fill-opacity="0.25"/><circle cx="18" cy="46.6" r="1.08" fill="rgb(75,185,65)" fill-opacity="0.25"/><circle cx="12.2" cy="56.9" r="0.87" fill="rgb(75,185,65)" fill-opacity="0.56"/><circle cx="16.7" cy="57.9" r="1.08" fill="rgb(75,185,65)" fill-opacity="0.56"/><circle cx="50" cy="13.5" r="0.87" fill="rgb(75,185,65)" fill-opacity="0.22"/><circle cx="52.5" cy="16" r="0.72" fill="rgb(75,185,65)" fill-opacity="0.22"/><circle cx="30" cy="33" r="0.87" fill="rgb(75,185,65)" fill-opacity="0.19"/><circle cx="33" cy="38" r="0.87" fill="rgb(75,185,65)" fill-opacity="0.19"/><circle cx="26" cy="25" r="0.87" fill="rgb(75,185,65)" fill-opacity="0.19"/><circle cx="20" cy="43" r="0.87" fill="rgb(75,185,65)" fill-opacity="0.22"/></g>
<rect x="0.3" y="0.3" width="61.6" height="61.2" fill="none" stroke="#0a0a08" stroke-width="0.6"/>
</g></g>
<g transform="translate(449.4 39.0)"><g clip-path="url(#cp)"><rect x="0" y="0" width="62.2" height="61.8" fill="#1d1910"/>
<radialGradient id="hz7"><stop offset="0" stop-color="rgb(125,30,15)" stop-opacity="0.3"/><stop offset="0.55" stop-color="rgb(125,30,15)" stop-opacity="0.165"/><stop offset="1" stop-color="rgb(125,30,15)" stop-opacity="0"/></radialGradient><ellipse cx="38" cy="14" rx="28" ry="16" fill="url(#hz7)"/><radialGradient id="hz8"><stop offset="0" stop-color="rgb(125,25,15)" stop-opacity="0.36"/><stop offset="0.55" stop-color="rgb(125,25,15)" stop-opacity="0.198"/><stop offset="1" stop-color="rgb(125,25,15)" stop-opacity="0"/></radialGradient><ellipse cx="21" cy="40" rx="13" ry="25" fill="url(#hz8)"/><radialGradient id="hz9"><stop offset="0" stop-color="rgb(125,25,15)" stop-opacity="0.2"/><stop offset="0.55" stop-color="rgb(125,25,15)" stop-opacity="0.110"/><stop offset="1" stop-color="rgb(125,25,15)" stop-opacity="0"/></radialGradient><ellipse cx="50" cy="14" rx="9" ry="9" fill="url(#hz9)"/>
<radialGradient id="hz10"><stop offset="0" stop-color="rgb(55,120,45)" stop-opacity="0.2"/><stop offset="0.55" stop-color="rgb(55,120,45)" stop-opacity="0.110"/><stop offset="1" stop-color="rgb(55,120,45)" stop-opacity="0"/></radialGradient><ellipse cx="31" cy="31" rx="19" ry="18" fill="url(#hz10)"/><radialGradient id="hz11"><stop offset="0" stop-color="rgb(55,120,45)" stop-opacity="0.14"/><stop offset="0.55" stop-color="rgb(55,120,45)" stop-opacity="0.077"/><stop offset="1" stop-color="rgb(55,120,45)" stop-opacity="0"/></radialGradient><ellipse cx="17" cy="50" rx="9" ry="13" fill="url(#hz11)"/><radialGradient id="hz12"><stop offset="0" stop-color="rgb(55,120,45)" stop-opacity="0.12"/><stop offset="0.55" stop-color="rgb(55,120,45)" stop-opacity="0.066"/><stop offset="1" stop-color="rgb(55,120,45)" stop-opacity="0"/></radialGradient><ellipse cx="48" cy="13" rx="10" ry="8" fill="url(#hz12)"/>
<g filter="url(#b2)"><circle cx="20" cy="13.1" r="2.63" fill="rgb(205,45,15)" fill-opacity="0.27"/><circle cx="23.9" cy="7.3" r="1.87" fill="rgb(205,45,15)" fill-opacity="0.14"/><circle cx="48.1" cy="9.8" r="2.38" fill="rgb(205,45,15)" fill-opacity="0.21"/><circle cx="54.9" cy="18" r="1.78" fill="rgb(205,45,15)" fill-opacity="0.30"/><circle cx="55" cy="21.3" r="1.87" fill="rgb(205,45,15)" fill-opacity="0.09"/><circle cx="21" cy="22.9" r="2.46" fill="rgb(205,45,15)" fill-opacity="0.14"/><circle cx="20.7" cy="29.2" r="2.46" fill="rgb(205,45,15)" fill-opacity="0.22"/><circle cx="20.9" cy="33.7" r="2.46" fill="rgb(205,45,15)" fill-opacity="0.12"/><circle cx="8.6" cy="31.4" r="1.95" fill="rgb(205,45,15)" fill-opacity="0.21"/><circle cx="7.1" cy="41.2" r="1.95" fill="rgb(205,45,15)" fill-opacity="0.30"/><circle cx="8.2" cy="37.7" r="1.53" fill="rgb(205,45,15)" fill-opacity="0.12"/><circle cx="26.9" cy="40.7" r="2.29" fill="rgb(205,45,15)" fill-opacity="0.26"/><circle cx="34.4" cy="43.2" r="2.29" fill="rgb(205,45,15)" fill-opacity="0.14"/><circle cx="22" cy="42.2" r="2.12" fill="rgb(205,45,15)" fill-opacity="0.12"/><circle cx="18.4" cy="46.8" r="2.80" fill="rgb(205,45,15)" fill-opacity="0.26"/><circle cx="20.7" cy="44.9" r="2.12" fill="rgb(205,45,15)" fill-opacity="0.18"/><circle cx="12.2" cy="56.6" r="1.95" fill="rgb(205,45,15)" fill-opacity="0.30"/><circle cx="16.5" cy="57.5" r="2.63" fill="rgb(205,45,15)" fill-opacity="0.28"/><circle cx="15.4" cy="54" r="2.04" fill="rgb(205,45,15)" fill-opacity="0.14"/><circle cx="17.5" cy="60.5" r="2.12" fill="rgb(205,45,15)" fill-opacity="0.24"/><circle cx="61.9" cy="57.9" r="1.53" fill="rgb(205,45,15)" fill-opacity="0.18"/><circle cx="50.5" cy="13.5" r="1.95" fill="rgb(205,45,15)" fill-opacity="0.09"/><circle cx="43" cy="41" r="2.04" fill="rgb(205,45,15)" fill-opacity="0.06"/></g>
<g filter="url(#b3)"><circle cx="20" cy="13.1" r="1.95" fill="rgb(215,55,20)" fill-opacity="0.36" stroke="rgb(215,55,20)" stroke-opacity="0.79" stroke-width="1.2"/><circle cx="23.9" cy="7.3" r="1.10" fill="rgb(215,55,20)" fill-opacity="0.40"/><circle cx="48.1" cy="9.8" r="1.61" fill="rgb(215,55,20)" fill-opacity="0.62"/><circle cx="54.9" cy="18" r="1.02" fill="rgb(215,55,20)" fill-opacity="0.88"/><circle cx="55" cy="21.3" r="1.10" fill="rgb(215,55,20)" fill-opacity="0.26"/><circle cx="21" cy="22.9" r="1.75" fill="rgb(215,55,20)" fill-opacity="0.18" stroke="rgb(215,55,20)" stroke-opacity="0.40" stroke-width="1.2"/><circle cx="20.7" cy="29.2" r="1.75" fill="rgb(215,55,20)" fill-opacity="0.30" stroke="rgb(215,55,20)" stroke-opacity="0.66" stroke-width="1.2"/><circle cx="20.9" cy="33.7" r="1.75" fill="rgb(215,55,20)" fill-opacity="0.16" stroke="rgb(215,55,20)" stroke-opacity="0.35" stroke-width="1.2"/><circle cx="8.6" cy="31.4" r="1.19" fill="rgb(215,55,20)" fill-opacity="0.62"/><circle cx="7.1" cy="41.2" r="1.19" fill="rgb(215,55,20)" fill-opacity="0.88"/><circle cx="8.2" cy="37.7" r="0.77" fill="rgb(215,55,20)" fill-opacity="0.35"/><circle cx="26.9" cy="40.7" r="1.53" fill="rgb(215,55,20)" fill-opacity="0.75"/><circle cx="34.4" cy="43.2" r="1.55" fill="rgb(215,55,20)" fill-opacity="0.18" stroke="rgb(215,55,20)" stroke-opacity="0.40" stroke-width="1.2"/><circle cx="22" cy="42.2" r="1.36" fill="rgb(215,55,20)" fill-opacity="0.35"/><circle cx="18.4" cy="46.8" r="2.04" fill="rgb(215,55,20)" fill-opacity="0.75"/><circle cx="20.7" cy="44.9" r="1.36" fill="rgb(215,55,20)" fill-opacity="0.53"/><circle cx="12.2" cy="56.6" r="1.19" fill="rgb(215,55,20)" fill-opacity="0.88"/><circle cx="16.5" cy="57.5" r="1.87" fill="rgb(215,55,20)" fill-opacity="0.84"/><circle cx="15.4" cy="54" r="1.27" fill="rgb(215,55,20)" fill-opacity="0.40"/><circle cx="17.5" cy="60.5" r="1.36" fill="rgb(215,55,20)" fill-opacity="0.70"/><circle cx="61.9" cy="57.9" r="0.77" fill="rgb(215,55,20)" fill-opacity="0.53"/><circle cx="50.5" cy="13.5" r="1.15" fill="rgb(215,55,20)" fill-opacity="0.12" stroke="rgb(215,55,20)" stroke-opacity="0.26" stroke-width="1.2"/><circle cx="43" cy="41" r="1.25" fill="rgb(215,55,20)" fill-opacity="0.08" stroke="rgb(215,55,20)" stroke-opacity="0.18" stroke-width="1.2"/></g>
<g filter="url(#b3)"><circle cx="31.7" cy="40.3" r="0.90" fill="rgb(60,150,50)" fill-opacity="0.12"/><circle cx="29.2" cy="30.3" r="0.69" fill="rgb(60,150,50)" fill-opacity="0.14"/><circle cx="30.7" cy="37.0" r="1.27" fill="rgb(60,150,50)" fill-opacity="0.11"/><circle cx="35.3" cy="25.4" r="1.06" fill="rgb(60,150,50)" fill-opacity="0.07"/><circle cx="23.1" cy="23.7" r="0.99" fill="rgb(60,150,50)" fill-opacity="0.13"/><circle cx="29.8" cy="30.0" r="1.13" fill="rgb(60,150,50)" fill-opacity="0.11"/><circle cx="30.5" cy="33.4" r="1.20" fill="rgb(60,150,50)" fill-opacity="0.11"/><circle cx="28.7" cy="21.1" r="1.10" fill="rgb(60,150,50)" fill-opacity="0.15"/><circle cx="22.0" cy="38.4" r="0.94" fill="rgb(60,150,50)" fill-opacity="0.15"/><circle cx="33.3" cy="30.0" r="0.77" fill="rgb(60,150,50)" fill-opacity="0.08"/><circle cx="38.7" cy="30.4" r="1.05" fill="rgb(60,150,50)" fill-opacity="0.09"/><circle cx="23.7" cy="31.7" r="0.89" fill="rgb(60,150,50)" fill-opacity="0.11"/><circle cx="20.4" cy="26.3" r="1.09" fill="rgb(60,150,50)" fill-opacity="0.15"/><circle cx="39.0" cy="22.6" r="1.08" fill="rgb(60,150,50)" fill-opacity="0.08"/><circle cx="39.1" cy="23.0" r="1.22" fill="rgb(60,150,50)" fill-opacity="0.11"/><circle cx="29.8" cy="27.4" r="1.17" fill="rgb(60,150,50)" fill-opacity="0.11"/><circle cx="30.5" cy="34.2" r="1.19" fill="rgb(60,150,50)" fill-opacity="0.16"/><circle cx="40.7" cy="37.5" r="0.93" fill="rgb(60,150,50)" fill-opacity="0.07"/><circle cx="28.0" cy="41.9" r="1.20" fill="rgb(60,150,50)" fill-opacity="0.07"/><circle cx="29.5" cy="30.8" r="1.10" fill="rgb(60,150,50)" fill-opacity="0.09"/><circle cx="40.4" cy="23.9" r="0.98" fill="rgb(60,150,50)" fill-opacity="0.16"/><circle cx="30.0" cy="34.4" r="1.04" fill="rgb(60,150,50)" fill-opacity="0.07"/><circle cx="33.5" cy="38.6" r="1.05" fill="rgb(60,150,50)" fill-opacity="0.07"/><circle cx="42.5" cy="34.9" r="0.87" fill="rgb(60,150,50)" fill-opacity="0.15"/><circle cx="36.8" cy="28.0" r="0.95" fill="rgb(60,150,50)" fill-opacity="0.11"/><circle cx="25.1" cy="25.1" r="1.01" fill="rgb(60,150,50)" fill-opacity="0.12"/><circle cx="39.1" cy="29.1" r="0.94" fill="rgb(60,150,50)" fill-opacity="0.13"/><circle cx="31.5" cy="37.8" r="1.26" fill="rgb(60,150,50)" fill-opacity="0.11"/><circle cx="30.2" cy="31.8" r="0.93" fill="rgb(60,150,50)" fill-opacity="0.11"/><circle cx="40.6" cy="33.1" r="1.05" fill="rgb(60,150,50)" fill-opacity="0.07"/><circle cx="25.3" cy="26.6" r="1.09" fill="rgb(60,150,50)" fill-opacity="0.10"/><circle cx="28.1" cy="22.4" r="0.70" fill="rgb(60,150,50)" fill-opacity="0.07"/><circle cx="25.3" cy="21.5" r="0.83" fill="rgb(60,150,50)" fill-opacity="0.10"/><circle cx="25.5" cy="28.7" r="0.89" fill="rgb(60,150,50)" fill-opacity="0.09"/><circle cx="24.5" cy="38.4" r="0.86" fill="rgb(60,150,50)" fill-opacity="0.10"/><circle cx="31.2" cy="30.6" r="1.02" fill="rgb(60,150,50)" fill-opacity="0.13"/><circle cx="29.1" cy="36.5" r="1.16" fill="rgb(60,150,50)" fill-opacity="0.08"/><circle cx="34.0" cy="38.7" r="1.10" fill="rgb(60,150,50)" fill-opacity="0.07"/><circle cx="28.1" cy="37.6" r="1.17" fill="rgb(60,150,50)" fill-opacity="0.10"/><circle cx="33.8" cy="28.7" r="0.88" fill="rgb(60,150,50)" fill-opacity="0.12"/><circle cx="52.7" cy="11.5" r="0.82" fill="rgb(60,150,50)" fill-opacity="0.07"/><circle cx="46.1" cy="13.6" r="1.16" fill="rgb(60,150,50)" fill-opacity="0.13"/><circle cx="50.5" cy="16.5" r="1.16" fill="rgb(60,150,50)" fill-opacity="0.11"/><circle cx="50.5" cy="11.0" r="0.76" fill="rgb(60,150,50)" fill-opacity="0.08"/><circle cx="50.0" cy="11.4" r="0.88" fill="rgb(60,150,50)" fill-opacity="0.10"/><circle cx="44.9" cy="15.7" r="1.22" fill="rgb(60,150,50)" fill-opacity="0.07"/><circle cx="56.7" cy="14.2" r="1.21" fill="rgb(60,150,50)" fill-opacity="0.14"/><circle cx="41.9" cy="16.3" r="1.23" fill="rgb(60,150,50)" fill-opacity="0.08"/><circle cx="48.8" cy="8.6" r="1.07" fill="rgb(60,150,50)" fill-opacity="0.10"/><circle cx="48.0" cy="17.1" r="0.82" fill="rgb(60,150,50)" fill-opacity="0.07"/><circle cx="16.0" cy="46.7" r="1.16" fill="rgb(60,150,50)" fill-opacity="0.07"/><circle cx="21.3" cy="44.9" r="1.23" fill="rgb(60,150,50)" fill-opacity="0.14"/><circle cx="20.9" cy="45.2" r="0.69" fill="rgb(60,150,50)" fill-opacity="0.12"/><circle cx="19.1" cy="52.9" r="1.07" fill="rgb(60,150,50)" fill-opacity="0.10"/><circle cx="13.9" cy="53.5" r="1.05" fill="rgb(60,150,50)" fill-opacity="0.09"/><circle cx="17.9" cy="57.2" r="0.96" fill="rgb(60,150,50)" fill-opacity="0.13"/><circle cx="16.9" cy="51.7" r="0.99" fill="rgb(60,150,50)" fill-opacity="0.13"/><circle cx="20.1" cy="55.9" r="1.23" fill="rgb(60,150,50)" fill-opacity="0.13"/><circle cx="18.1" cy="48.6" r="1.05" fill="rgb(60,150,50)" fill-opacity="0.13"/><circle cx="20.2" cy="50.3" r="0.84" fill="rgb(60,150,50)" fill-opacity="0.10"/><circle cx="20.6" cy="11.2" r="1.14" fill="rgb(60,150,50)" fill-opacity="0.05"/><circle cx="25.6" cy="10.4" r="0.76" fill="rgb(60,150,50)" fill-opacity="0.05"/><circle cx="29.4" cy="9.4" r="0.73" fill="rgb(60,150,50)" fill-opacity="0.07"/><circle cx="22.8" cy="11.8" r="0.89" fill="rgb(60,150,50)" fill-opacity="0.08"/><circle cx="21.2" cy="8.9" r="0.79" fill="rgb(60,150,50)" fill-opacity="0.07"/><circle cx="27.0" cy="12.0" r="1.10" fill="rgb(60,150,50)" fill-opacity="0.07"/></g>
<g filter="url(#b1)"><circle cx="46.8" cy="10.9" r="0.79" fill="rgb(140,185,40)" fill-opacity="0.41"/><circle cx="25.2" cy="7.6" r="0.94" fill="rgb(140,185,40)" fill-opacity="0.16"/><circle cx="20.7" cy="13.5" r="1.62" fill="rgb(140,185,40)" fill-opacity="0.04" stroke="rgb(140,185,40)" stroke-opacity="0.14" stroke-width="0.9"/><circle cx="55.3" cy="18" r="0.72" fill="rgb(140,185,40)" fill-opacity="0.27"/><circle cx="22.6" cy="30.5" r="1.16" fill="rgb(140,185,40)" fill-opacity="0.41"/><circle cx="21.3" cy="27.9" r="0.94" fill="rgb(140,185,40)" fill-opacity="0.27"/><circle cx="7.3" cy="40.9" r="0.72" fill="rgb(140,185,40)" fill-opacity="0.36"/><circle cx="27.2" cy="40.3" r="1.01" fill="rgb(140,185,40)" fill-opacity="0.18"/><circle cx="18" cy="46.6" r="1.08" fill="rgb(140,185,40)" fill-opacity="0.18"/><circle cx="12.2" cy="56.9" r="0.87" fill="rgb(140,185,40)" fill-opacity="0.41"/><circle cx="16.7" cy="57.9" r="1.08" fill="rgb(140,185,40)" fill-opacity="0.41"/><circle cx="50" cy="13.5" r="0.87" fill="rgb(140,185,40)" fill-opacity="0.16"/><circle cx="52.5" cy="16" r="0.72" fill="rgb(140,185,40)" fill-opacity="0.16"/><circle cx="30" cy="33" r="0.87" fill="rgb(140,185,40)" fill-opacity="0.14"/><circle cx="33" cy="38" r="0.87" fill="rgb(140,185,40)" fill-opacity="0.14"/><circle cx="26" cy="25" r="0.87" fill="rgb(140,185,40)" fill-opacity="0.14"/><circle cx="20" cy="43" r="0.87" fill="rgb(140,185,40)" fill-opacity="0.16"/></g>
<rect x="0.3" y="0.3" width="61.6" height="61.2" fill="none" stroke="#0a0a08" stroke-width="0.6"/>
</g></g>
<g transform="translate(315.0 108.1)"><g clip-path="url(#cp)"><rect x="0" y="0" width="62.2" height="61.8" fill="#1d1411"/>
<radialGradient id="hz13"><stop offset="0" stop-color="rgb(130,20,15)" stop-opacity="0.22"/><stop offset="0.55" stop-color="rgb(130,20,15)" stop-opacity="0.121"/><stop offset="1" stop-color="rgb(130,20,15)" stop-opacity="0"/></radialGradient><ellipse cx="42" cy="28" rx="26" ry="32" fill="url(#hz13)"/><radialGradient id="hz14"><stop offset="0" stop-color="rgb(130,20,15)" stop-opacity="0.22"/><stop offset="0.55" stop-color="rgb(130,20,15)" stop-opacity="0.121"/><stop offset="1" stop-color="rgb(130,20,15)" stop-opacity="0"/></radialGradient><ellipse cx="10" cy="20" rx="16" ry="9" fill="url(#hz14)"/><radialGradient id="hz15"><stop offset="0" stop-color="rgb(130,20,15)" stop-opacity="0.18"/><stop offset="0.55" stop-color="rgb(130,20,15)" stop-opacity="0.099"/><stop offset="1" stop-color="rgb(130,20,15)" stop-opacity="0"/></radialGradient><ellipse cx="45" cy="55" rx="14" ry="9" fill="url(#hz15)"/>
<g filter="url(#b2)"><circle cx="15.7" cy="16.5" r="2.72" fill="rgb(205,18,18)" fill-opacity="0.35"/><circle cx="9.8" cy="19.4" r="2.29" fill="rgb(205,18,18)" fill-opacity="0.35"/><circle cx="3.9" cy="18.3" r="2.29" fill="rgb(205,18,18)" fill-opacity="0.24"/><circle cx="1" cy="18.7" r="1.87" fill="rgb(205,18,18)" fill-opacity="0.14"/><circle cx="7.6" cy="31.4" r="2.46" fill="rgb(205,18,18)" fill-opacity="0.35"/><circle cx="3.5" cy="31.3" r="1.78" fill="rgb(205,18,18)" fill-opacity="0.10"/><circle cx="22" cy="16.5" r="1.70" fill="rgb(205,18,18)" fill-opacity="0.28"/><circle cx="25.9" cy="19.4" r="2.46" fill="rgb(205,18,18)" fill-opacity="0.33"/><circle cx="31.4" cy="11.5" r="2.80" fill="rgb(205,18,18)" fill-opacity="0.26"/><circle cx="35.7" cy="15.2" r="2.63" fill="rgb(205,18,18)" fill-opacity="0.21"/><circle cx="27.9" cy="25.2" r="2.72" fill="rgb(205,18,18)" fill-opacity="0.32"/><circle cx="34.4" cy="25.2" r="2.46" fill="rgb(205,18,18)" fill-opacity="0.23"/><circle cx="34" cy="29.2" r="2.38" fill="rgb(205,18,18)" fill-opacity="0.21"/><circle cx="32.2" cy="34" r="2.46" fill="rgb(205,18,18)" fill-opacity="0.21"/><circle cx="28.2" cy="37.9" r="1.70" fill="rgb(205,18,18)" fill-opacity="0.28"/><circle cx="45.8" cy="9.5" r="2.63" fill="rgb(205,18,18)" fill-opacity="0.12"/><circle cx="40.9" cy="8.9" r="1.61" fill="rgb(205,18,18)" fill-opacity="0.21"/><circle cx="55.3" cy="5.6" r="2.72" fill="rgb(205,18,18)" fill-opacity="0.12"/><circle cx="56" cy="12.8" r="2.46" fill="rgb(205,18,18)" fill-opacity="0.11"/><circle cx="44.5" cy="22" r="2.63" fill="rgb(205,18,18)" fill-opacity="0.17"/><circle cx="47.9" cy="27.9" r="2.46" fill="rgb(205,18,18)" fill-opacity="0.17"/><circle cx="53.4" cy="30.9" r="2.46" fill="rgb(205,18,18)" fill-opacity="0.13"/><circle cx="54" cy="37.7" r="2.29" fill="rgb(205,18,18)" fill-opacity="0.10"/><circle cx="42.6" cy="42.2" r="2.29" fill="rgb(205,18,18)" fill-opacity="0.30"/><circle cx="50.5" cy="50.7" r="2.46" fill="rgb(205,18,18)" fill-opacity="0.35"/><circle cx="54.7" cy="54.7" r="2.72" fill="rgb(205,18,18)" fill-opacity="0.35"/><circle cx="51.4" cy="56.6" r="2.29" fill="rgb(205,18,18)" fill-opacity="0.35"/><circle cx="40.3" cy="53.4" r="1.95" fill="rgb(205,18,18)" fill-opacity="0.23"/><circle cx="35.7" cy="55.3" r="2.46" fill="rgb(205,18,18)" fill-opacity="0.19"/><circle cx="32.2" cy="58.6" r="2.46" fill="rgb(205,18,18)" fill-opacity="0.21"/><circle cx="59.9" cy="47.5" r="1.87" fill="rgb(205,18,18)" fill-opacity="0.21"/><circle cx="58.6" cy="18" r="2.29" fill="rgb(205,18,18)" fill-opacity="0.10"/><circle cx="25.2" cy="30.5" r="1.61" fill="rgb(205,18,18)" fill-opacity="0.14"/><circle cx="60.5" cy="21" r="2.12" fill="rgb(205,18,18)" fill-opacity="0.10"/><circle cx="46" cy="17" r="1.61" fill="rgb(205,18,18)" fill-opacity="0.10"/><circle cx="43.5" cy="39" r="1.87" fill="rgb(205,18,18)" fill-opacity="0.10"/><circle cx="29" cy="52" r="1.78" fill="rgb(205,18,18)" fill-opacity="0.09"/><circle cx="57" cy="9" r="2.04" fill="rgb(205,18,18)" fill-opacity="0.09"/></g>
<g filter="url(#b3)"><circle cx="15.7" cy="16.5" r="2.64" fill="rgb(215,20,20)" fill-opacity="0.95"/><circle cx="9.8" cy="19.4" r="2.07" fill="rgb(215,20,20)" fill-opacity="0.95"/><circle cx="3.9" cy="18.3" r="2.07" fill="rgb(215,20,20)" fill-opacity="0.66"/><circle cx="1" cy="18.7" r="1.49" fill="rgb(215,20,20)" fill-opacity="0.38"/><circle cx="7.6" cy="31.4" r="2.30" fill="rgb(215,20,20)" fill-opacity="0.95"/><circle cx="3.5" cy="31.3" r="1.38" fill="rgb(215,20,20)" fill-opacity="0.28"/><circle cx="22" cy="16.5" r="1.26" fill="rgb(215,20,20)" fill-opacity="0.76"/><circle cx="25.9" cy="19.4" r="1.75" fill="rgb(215,20,20)" fill-opacity="0.45" stroke="rgb(215,20,20)" stroke-opacity="0.90" stroke-width="1.3"/><circle cx="31.4" cy="11.5" r="2.15" fill="rgb(215,20,20)" fill-opacity="0.36" stroke="rgb(215,20,20)" stroke-opacity="0.71" stroke-width="1.3"/><circle cx="35.7" cy="15.2" r="1.95" fill="rgb(215,20,20)" fill-opacity="0.28" stroke="rgb(215,20,20)" stroke-opacity="0.57" stroke-width="1.3"/><circle cx="27.9" cy="25.2" r="2.05" fill="rgb(215,20,20)" fill-opacity="0.43" stroke="rgb(215,20,20)" stroke-opacity="0.85" stroke-width="1.3"/><circle cx="34.4" cy="25.2" r="1.75" fill="rgb(215,20,20)" fill-opacity="0.31" stroke="rgb(215,20,20)" stroke-opacity="0.62" stroke-width="1.3"/><circle cx="34" cy="29.2" r="1.65" fill="rgb(215,20,20)" fill-opacity="0.28" stroke="rgb(215,20,20)" stroke-opacity="0.57" stroke-width="1.3"/><circle cx="32.2" cy="34" r="2.30" fill="rgb(215,20,20)" fill-opacity="0.57"/><circle cx="28.2" cy="37.9" r="1.26" fill="rgb(215,20,20)" fill-opacity="0.76"/><circle cx="45.8" cy="9.5" r="1.95" fill="rgb(215,20,20)" fill-opacity="0.17" stroke="rgb(215,20,20)" stroke-opacity="0.33" stroke-width="1.3"/><circle cx="40.9" cy="8.9" r="1.15" fill="rgb(215,20,20)" fill-opacity="0.57"/><circle cx="55.3" cy="5.6" r="2.05" fill="rgb(215,20,20)" fill-opacity="0.17" stroke="rgb(215,20,20)" stroke-opacity="0.33" stroke-width="1.3"/><circle cx="56" cy="12.8" r="1.75" fill="rgb(215,20,20)" fill-opacity="0.15" stroke="rgb(215,20,20)" stroke-opacity="0.30" stroke-width="1.3"/><circle cx="44.5" cy="22" r="1.95" fill="rgb(215,20,20)" fill-opacity="0.24" stroke="rgb(215,20,20)" stroke-opacity="0.47" stroke-width="1.3"/><circle cx="47.9" cy="27.9" r="1.75" fill="rgb(215,20,20)" fill-opacity="0.24" stroke="rgb(215,20,20)" stroke-opacity="0.47" stroke-width="1.3"/><circle cx="53.4" cy="30.9" r="1.75" fill="rgb(215,20,20)" fill-opacity="0.18" stroke="rgb(215,20,20)" stroke-opacity="0.36" stroke-width="1.3"/><circle cx="54" cy="37.7" r="1.55" fill="rgb(215,20,20)" fill-opacity="0.14" stroke="rgb(215,20,20)" stroke-opacity="0.28" stroke-width="1.3"/><circle cx="42.6" cy="42.2" r="2.07" fill="rgb(215,20,20)" fill-opacity="0.81"/><circle cx="50.5" cy="50.7" r="2.30" fill="rgb(215,20,20)" fill-opacity="0.95"/><circle cx="54.7" cy="54.7" r="2.05" fill="rgb(215,20,20)" fill-opacity="0.47" stroke="rgb(215,20,20)" stroke-opacity="0.95" stroke-width="1.3"/><circle cx="51.4" cy="56.6" r="2.07" fill="rgb(215,20,20)" fill-opacity="0.95"/><circle cx="40.3" cy="53.4" r="1.61" fill="rgb(215,20,20)" fill-opacity="0.62"/><circle cx="35.7" cy="55.3" r="1.75" fill="rgb(215,20,20)" fill-opacity="0.26" stroke="rgb(215,20,20)" stroke-opacity="0.52" stroke-width="1.3"/><circle cx="32.2" cy="58.6" r="1.75" fill="rgb(215,20,20)" fill-opacity="0.28" stroke="rgb(215,20,20)" stroke-opacity="0.57" stroke-width="1.3"/><circle cx="59.9" cy="47.5" r="1.49" fill="rgb(215,20,20)" fill-opacity="0.57"/><circle cx="58.6" cy="18" r="1.55" fill="rgb(215,20,20)" fill-opacity="0.14" stroke="rgb(215,20,20)" stroke-opacity="0.28" stroke-width="1.3"/><circle cx="25.2" cy="30.5" r="1.15" fill="rgb(215,20,20)" fill-opacity="0.38"/><circle cx="60.5" cy="21" r="1.35" fill="rgb(215,20,20)" fill-opacity="0.14" stroke="rgb(215,20,20)" stroke-opacity="0.28" stroke-width="1.3"/><circle cx="46" cy="17" r="1.15" fill="rgb(215,20,20)" fill-opacity="0.28"/><circle cx="43.5" cy="39" r="1.49" fill="rgb(215,20,20)" fill-opacity="0.28"/><circle cx="29" cy="52" r="0.95" fill="rgb(215,20,20)" fill-opacity="0.12" stroke="rgb(215,20,20)" stroke-opacity="0.24" stroke-width="1.3"/><circle cx="57" cy="9" r="1.25" fill="rgb(215,20,20)" fill-opacity="0.12" stroke="rgb(215,20,20)" stroke-opacity="0.24" stroke-width="1.3"/></g>
<rect x="0.3" y="0.3" width="61.6" height="61.2" fill="none" stroke="#0a0a08" stroke-width="0.6"/>
</g></g>
<g transform="translate(382.1 108.1)"><g clip-path="url(#cp)"><rect x="0" y="0" width="62.2" height="61.8" fill="#161a12"/>
<g filter="url(#b2)"><circle cx="8" cy="18.5" r="2.12" fill="rgb(70,150,60)" fill-opacity="0.19"/><circle cx="29" cy="17" r="1.53" fill="rgb(70,150,60)" fill-opacity="0.17"/><circle cx="31" cy="11" r="1.27" fill="rgb(70,150,60)" fill-opacity="0.15"/><circle cx="35" cy="25" r="1.70" fill="rgb(70,150,60)" fill-opacity="0.19"/><circle cx="28" cy="25" r="1.36" fill="rgb(70,150,60)" fill-opacity="0.15"/><circle cx="31" cy="35" r="1.70" fill="rgb(70,150,60)" fill-opacity="0.19"/><circle cx="46" cy="9" r="1.36" fill="rgb(70,150,60)" fill-opacity="0.15"/><circle cx="55" cy="5" r="1.70" fill="rgb(70,150,60)" fill-opacity="0.19"/><circle cx="47" cy="21" r="1.53" fill="rgb(70,150,60)" fill-opacity="0.17"/><circle cx="48" cy="28" r="1.36" fill="rgb(70,150,60)" fill-opacity="0.15"/><circle cx="58" cy="20" r="1.70" fill="rgb(70,150,60)" fill-opacity="0.19"/><circle cx="42" cy="42" r="1.36" fill="rgb(70,150,60)" fill-opacity="0.15"/><circle cx="36" cy="53" r="1.70" fill="rgb(70,150,60)" fill-opacity="0.17"/><circle cx="52" cy="55" r="1.87" fill="rgb(70,150,60)" fill-opacity="0.17"/><circle cx="60" cy="47" r="1.27" fill="rgb(70,150,60)" fill-opacity="0.15"/><circle cx="8" cy="31" r="1.27" fill="rgb(70,150,60)" fill-opacity="0.11"/><circle cx="22" cy="17" r="1.02" fill="rgb(70,150,60)" fill-opacity="0.15"/></g>
<g filter="url(#b3)"><circle cx="47.6" cy="32.5" r="0.90" fill="rgb(60,130,50)" fill-opacity="0.17"/><circle cx="44.1" cy="13.7" r="1.16" fill="rgb(60,130,50)" fill-opacity="0.17"/><circle cx="33.0" cy="34.0" r="0.98" fill="rgb(60,130,50)" fill-opacity="0.18"/><circle cx="29.3" cy="38.0" r="0.95" fill="rgb(60,130,50)" fill-opacity="0.13"/><circle cx="27.9" cy="23.3" r="0.72" fill="rgb(60,130,50)" fill-opacity="0.15"/><circle cx="27.1" cy="38.8" r="1.24" fill="rgb(60,130,50)" fill-opacity="0.14"/><circle cx="54.5" cy="14.5" r="0.83" fill="rgb(60,130,50)" fill-opacity="0.16"/><circle cx="53.4" cy="44.0" r="1.07" fill="rgb(60,130,50)" fill-opacity="0.21"/><circle cx="45.7" cy="8.3" r="1.11" fill="rgb(60,130,50)" fill-opacity="0.17"/><circle cx="52.4" cy="39.4" r="0.68" fill="rgb(60,130,50)" fill-opacity="0.12"/><circle cx="42.4" cy="24.0" r="0.73" fill="rgb(60,130,50)" fill-opacity="0.11"/><circle cx="46.7" cy="21.7" r="0.70" fill="rgb(60,130,50)" fill-opacity="0.20"/><circle cx="53.8" cy="44.2" r="1.08" fill="rgb(60,130,50)" fill-opacity="0.20"/><circle cx="54.4" cy="22.5" r="1.16" fill="rgb(60,130,50)" fill-opacity="0.10"/><circle cx="43.3" cy="10.7" r="1.10" fill="rgb(60,130,50)" fill-opacity="0.11"/><circle cx="41.9" cy="3.0" r="0.71" fill="rgb(60,130,50)" fill-opacity="0.14"/><circle cx="27.2" cy="18.9" r="0.82" fill="rgb(60,130,50)" fill-opacity="0.12"/><circle cx="42.0" cy="47.4" r="1.13" fill="rgb(60,130,50)" fill-opacity="0.15"/><circle cx="35.0" cy="39.0" r="0.89" fill="rgb(60,130,50)" fill-opacity="0.15"/><circle cx="52.3" cy="36.6" r="1.26" fill="rgb(60,130,50)" fill-opacity="0.15"/><circle cx="41.9" cy="19.3" r="1.09" fill="rgb(60,130,50)" fill-opacity="0.19"/><circle cx="36.4" cy="12.5" r="0.97" fill="rgb(60,130,50)" fill-opacity="0.18"/><circle cx="46.6" cy="23.0" r="0.74" fill="rgb(60,130,50)" fill-opacity="0.19"/><circle cx="52.5" cy="19.2" r="0.94" fill="rgb(60,130,50)" fill-opacity="0.19"/><circle cx="45.2" cy="38.8" r="0.80" fill="rgb(60,130,50)" fill-opacity="0.17"/><circle cx="39.0" cy="37.9" r="1.09" fill="rgb(60,130,50)" fill-opacity="0.21"/><circle cx="37.9" cy="48.2" r="0.93" fill="rgb(60,130,50)" fill-opacity="0.20"/><circle cx="35.0" cy="22.0" r="0.81" fill="rgb(60,130,50)" fill-opacity="0.10"/><circle cx="5.0" cy="20.4" r="0.78" fill="rgb(60,130,50)" fill-opacity="0.12"/><circle cx="6.6" cy="23.9" r="0.77" fill="rgb(60,130,50)" fill-opacity="0.18"/><circle cx="3.4" cy="20.5" r="0.96" fill="rgb(60,130,50)" fill-opacity="0.16"/><circle cx="12.8" cy="16.8" r="0.97" fill="rgb(60,130,50)" fill-opacity="0.15"/><circle cx="13.2" cy="17.7" r="1.11" fill="rgb(60,130,50)" fill-opacity="0.18"/><circle cx="6.4" cy="20.4" r="0.82" fill="rgb(60,130,50)" fill-opacity="0.15"/><circle cx="6.0" cy="15.7" r="1.19" fill="rgb(60,130,50)" fill-opacity="0.10"/><circle cx="11.5" cy="22.1" r="0.79" fill="rgb(60,130,50)" fill-opacity="0.15"/></g>
<rect x="0.3" y="0.3" width="61.6" height="61.2" fill="none" stroke="#0a0a08" stroke-width="0.6"/>
</g></g>
<g transform="translate(449.4 108.1)"><g clip-path="url(#cp)"><rect x="0" y="0" width="62.2" height="61.8" fill="#1d1810"/>
<radialGradient id="hz16"><stop offset="0" stop-color="rgb(130,20,15)" stop-opacity="0.22"/><stop offset="0.55" stop-color="rgb(130,20,15)" stop-opacity="0.121"/><stop offset="1" stop-color="rgb(130,20,15)" stop-opacity="0"/></radialGradient><ellipse cx="42" cy="28" rx="26" ry="32" fill="url(#hz16)"/><radialGradient id="hz17"><stop offset="0" stop-color="rgb(130,20,15)" stop-opacity="0.22"/><stop offset="0.55" stop-color="rgb(130,20,15)" stop-opacity="0.121"/><stop offset="1" stop-color="rgb(130,20,15)" stop-opacity="0"/></radialGradient><ellipse cx="10" cy="20" rx="16" ry="9" fill="url(#hz17)"/><radialGradient id="hz18"><stop offset="0" stop-color="rgb(130,20,15)" stop-opacity="0.18"/><stop offset="0.55" stop-color="rgb(130,20,15)" stop-opacity="0.099"/><stop offset="1" stop-color="rgb(130,20,15)" stop-opacity="0"/></radialGradient><ellipse cx="45" cy="55" rx="14" ry="9" fill="url(#hz18)"/>
<g filter="url(#b2)"><circle cx="15.7" cy="16.5" r="2.72" fill="rgb(205,25,15)" fill-opacity="0.35"/><circle cx="9.8" cy="19.4" r="2.29" fill="rgb(205,25,15)" fill-opacity="0.35"/><circle cx="3.9" cy="18.3" r="2.29" fill="rgb(205,25,15)" fill-opacity="0.24"/><circle cx="1" cy="18.7" r="1.87" fill="rgb(205,25,15)" fill-opacity="0.14"/><circle cx="7.6" cy="31.4" r="2.46" fill="rgb(205,25,15)" fill-opacity="0.35"/><circle cx="3.5" cy="31.3" r="1.78" fill="rgb(205,25,15)" fill-opacity="0.10"/><circle cx="22" cy="16.5" r="1.70" fill="rgb(205,25,15)" fill-opacity="0.28"/><circle cx="25.9" cy="19.4" r="2.46" fill="rgb(205,25,15)" fill-opacity="0.33"/><circle cx="31.4" cy="11.5" r="2.80" fill="rgb(205,25,15)" fill-opacity="0.26"/><circle cx="35.7" cy="15.2" r="2.63" fill="rgb(205,25,15)" fill-opacity="0.21"/><circle cx="27.9" cy="25.2" r="2.72" fill="rgb(205,25,15)" fill-opacity="0.32"/><circle cx="34.4" cy="25.2" r="2.46" fill="rgb(205,25,15)" fill-opacity="0.23"/><circle cx="34" cy="29.2" r="2.38" fill="rgb(205,25,15)" fill-opacity="0.21"/><circle cx="32.2" cy="34" r="2.46" fill="rgb(205,25,15)" fill-opacity="0.21"/><circle cx="28.2" cy="37.9" r="1.70" fill="rgb(205,25,15)" fill-opacity="0.28"/><circle cx="45.8" cy="9.5" r="2.63" fill="rgb(205,25,15)" fill-opacity="0.12"/><circle cx="40.9" cy="8.9" r="1.61" fill="rgb(205,25,15)" fill-opacity="0.21"/><circle cx="55.3" cy="5.6" r="2.72" fill="rgb(205,25,15)" fill-opacity="0.12"/><circle cx="56" cy="12.8" r="2.46" fill="rgb(205,25,15)" fill-opacity="0.11"/><circle cx="44.5" cy="22" r="2.63" fill="rgb(205,25,15)" fill-opacity="0.17"/><circle cx="47.9" cy="27.9" r="2.46" fill="rgb(205,25,15)" fill-opacity="0.17"/><circle cx="53.4" cy="30.9" r="2.46" fill="rgb(205,25,15)" fill-opacity="0.13"/><circle cx="54" cy="37.7" r="2.29" fill="rgb(205,25,15)" fill-opacity="0.10"/><circle cx="42.6" cy="42.2" r="2.29" fill="rgb(205,25,15)" fill-opacity="0.30"/><circle cx="50.5" cy="50.7" r="2.46" fill="rgb(205,25,15)" fill-opacity="0.35"/><circle cx="54.7" cy="54.7" r="2.72" fill="rgb(205,25,15)" fill-opacity="0.35"/><circle cx="51.4" cy="56.6" r="2.29" fill="rgb(205,25,15)" fill-opacity="0.35"/><circle cx="40.3" cy="53.4" r="1.95" fill="rgb(205,25,15)" fill-opacity="0.23"/><circle cx="35.7" cy="55.3" r="2.46" fill="rgb(205,25,15)" fill-opacity="0.19"/><circle cx="32.2" cy="58.6" r="2.46" fill="rgb(205,25,15)" fill-opacity="0.21"/><circle cx="59.9" cy="47.5" r="1.87" fill="rgb(205,25,15)" fill-opacity="0.21"/><circle cx="58.6" cy="18" r="2.29" fill="rgb(205,25,15)" fill-opacity="0.10"/><circle cx="25.2" cy="30.5" r="1.61" fill="rgb(205,25,15)" fill-opacity="0.14"/><circle cx="60.5" cy="21" r="2.12" fill="rgb(205,25,15)" fill-opacity="0.10"/><circle cx="46" cy="17" r="1.61" fill="rgb(205,25,15)" fill-opacity="0.10"/><circle cx="43.5" cy="39" r="1.87" fill="rgb(205,25,15)" fill-opacity="0.10"/><circle cx="29" cy="52" r="1.78" fill="rgb(205,25,15)" fill-opacity="0.09"/><circle cx="57" cy="9" r="2.04" fill="rgb(205,25,15)" fill-opacity="0.09"/></g>
<g filter="url(#b3)"><circle cx="15.7" cy="16.5" r="2.64" fill="rgb(220,28,20)" fill-opacity="0.95"/><circle cx="9.8" cy="19.4" r="2.07" fill="rgb(220,28,20)" fill-opacity="0.95"/><circle cx="3.9" cy="18.3" r="2.07" fill="rgb(220,28,20)" fill-opacity="0.66"/><circle cx="1" cy="18.7" r="1.49" fill="rgb(220,28,20)" fill-opacity="0.38"/><circle cx="7.6" cy="31.4" r="2.30" fill="rgb(220,28,20)" fill-opacity="0.95"/><circle cx="3.5" cy="31.3" r="1.38" fill="rgb(220,28,20)" fill-opacity="0.28"/><circle cx="22" cy="16.5" r="1.26" fill="rgb(220,28,20)" fill-opacity="0.76"/><circle cx="25.9" cy="19.4" r="1.75" fill="rgb(220,28,20)" fill-opacity="0.45" stroke="rgb(220,28,20)" stroke-opacity="0.90" stroke-width="1.3"/><circle cx="31.4" cy="11.5" r="2.15" fill="rgb(220,28,20)" fill-opacity="0.36" stroke="rgb(220,28,20)" stroke-opacity="0.71" stroke-width="1.3"/><circle cx="35.7" cy="15.2" r="1.95" fill="rgb(220,28,20)" fill-opacity="0.28" stroke="rgb(220,28,20)" stroke-opacity="0.57" stroke-width="1.3"/><circle cx="27.9" cy="25.2" r="2.05" fill="rgb(220,28,20)" fill-opacity="0.43" stroke="rgb(220,28,20)" stroke-opacity="0.85" stroke-width="1.3"/><circle cx="34.4" cy="25.2" r="1.75" fill="rgb(220,28,20)" fill-opacity="0.31" stroke="rgb(220,28,20)" stroke-opacity="0.62" stroke-width="1.3"/><circle cx="34" cy="29.2" r="1.65" fill="rgb(220,28,20)" fill-opacity="0.28" stroke="rgb(220,28,20)" stroke-opacity="0.57" stroke-width="1.3"/><circle cx="32.2" cy="34" r="2.30" fill="rgb(220,28,20)" fill-opacity="0.57"/><circle cx="28.2" cy="37.9" r="1.26" fill="rgb(220,28,20)" fill-opacity="0.76"/><circle cx="45.8" cy="9.5" r="1.95" fill="rgb(220,28,20)" fill-opacity="0.17" stroke="rgb(220,28,20)" stroke-opacity="0.33" stroke-width="1.3"/><circle cx="40.9" cy="8.9" r="1.15" fill="rgb(220,28,20)" fill-opacity="0.57"/><circle cx="55.3" cy="5.6" r="2.05" fill="rgb(220,28,20)" fill-opacity="0.17" stroke="rgb(220,28,20)" stroke-opacity="0.33" stroke-width="1.3"/><circle cx="56" cy="12.8" r="1.75" fill="rgb(220,28,20)" fill-opacity="0.15" stroke="rgb(220,28,20)" stroke-opacity="0.30" stroke-width="1.3"/><circle cx="44.5" cy="22" r="1.95" fill="rgb(220,28,20)" fill-opacity="0.24" stroke="rgb(220,28,20)" stroke-opacity="0.47" stroke-width="1.3"/><circle cx="47.9" cy="27.9" r="1.75" fill="rgb(220,28,20)" fill-opacity="0.24" stroke="rgb(220,28,20)" stroke-opacity="0.47" stroke-width="1.3"/><circle cx="53.4" cy="30.9" r="1.75" fill="rgb(220,28,20)" fill-opacity="0.18" stroke="rgb(220,28,20)" stroke-opacity="0.36" stroke-width="1.3"/><circle cx="54" cy="37.7" r="1.55" fill="rgb(220,28,20)" fill-opacity="0.14" stroke="rgb(220,28,20)" stroke-opacity="0.28" stroke-width="1.3"/><circle cx="42.6" cy="42.2" r="2.07" fill="rgb(220,28,20)" fill-opacity="0.81"/><circle cx="50.5" cy="50.7" r="2.30" fill="rgb(220,28,20)" fill-opacity="0.95"/><circle cx="54.7" cy="54.7" r="2.05" fill="rgb(220,28,20)" fill-opacity="0.47" stroke="rgb(220,28,20)" stroke-opacity="0.95" stroke-width="1.3"/><circle cx="51.4" cy="56.6" r="2.07" fill="rgb(220,28,20)" fill-opacity="0.95"/><circle cx="40.3" cy="53.4" r="1.61" fill="rgb(220,28,20)" fill-opacity="0.62"/><circle cx="35.7" cy="55.3" r="1.75" fill="rgb(220,28,20)" fill-opacity="0.26" stroke="rgb(220,28,20)" stroke-opacity="0.52" stroke-width="1.3"/><circle cx="32.2" cy="58.6" r="1.75" fill="rgb(220,28,20)" fill-opacity="0.28" stroke="rgb(220,28,20)" stroke-opacity="0.57" stroke-width="1.3"/><circle cx="59.9" cy="47.5" r="1.49" fill="rgb(220,28,20)" fill-opacity="0.57"/><circle cx="58.6" cy="18" r="1.55" fill="rgb(220,28,20)" fill-opacity="0.14" stroke="rgb(220,28,20)" stroke-opacity="0.28" stroke-width="1.3"/><circle cx="25.2" cy="30.5" r="1.15" fill="rgb(220,28,20)" fill-opacity="0.38"/><circle cx="60.5" cy="21" r="1.35" fill="rgb(220,28,20)" fill-opacity="0.14" stroke="rgb(220,28,20)" stroke-opacity="0.28" stroke-width="1.3"/><circle cx="46" cy="17" r="1.15" fill="rgb(220,28,20)" fill-opacity="0.28"/><circle cx="43.5" cy="39" r="1.49" fill="rgb(220,28,20)" fill-opacity="0.28"/><circle cx="29" cy="52" r="0.95" fill="rgb(220,28,20)" fill-opacity="0.12" stroke="rgb(220,28,20)" stroke-opacity="0.24" stroke-width="1.3"/><circle cx="57" cy="9" r="1.25" fill="rgb(220,28,20)" fill-opacity="0.12" stroke="rgb(220,28,20)" stroke-opacity="0.24" stroke-width="1.3"/></g>
<g filter="url(#b2)"><circle cx="8" cy="18.5" r="2.12" fill="rgb(70,150,60)" fill-opacity="0.10"/><circle cx="29" cy="17" r="1.53" fill="rgb(70,150,60)" fill-opacity="0.09"/><circle cx="31" cy="11" r="1.27" fill="rgb(70,150,60)" fill-opacity="0.08"/><circle cx="35" cy="25" r="1.70" fill="rgb(70,150,60)" fill-opacity="0.10"/><circle cx="28" cy="25" r="1.36" fill="rgb(70,150,60)" fill-opacity="0.08"/><circle cx="31" cy="35" r="1.70" fill="rgb(70,150,60)" fill-opacity="0.10"/><circle cx="46" cy="9" r="1.36" fill="rgb(70,150,60)" fill-opacity="0.08"/><circle cx="55" cy="5" r="1.70" fill="rgb(70,150,60)" fill-opacity="0.10"/><circle cx="47" cy="21" r="1.53" fill="rgb(70,150,60)" fill-opacity="0.09"/><circle cx="48" cy="28" r="1.36" fill="rgb(70,150,60)" fill-opacity="0.08"/><circle cx="58" cy="20" r="1.70" fill="rgb(70,150,60)" fill-opacity="0.10"/><circle cx="42" cy="42" r="1.36" fill="rgb(70,150,60)" fill-opacity="0.08"/><circle cx="36" cy="53" r="1.70" fill="rgb(70,150,60)" fill-opacity="0.09"/><circle cx="52" cy="55" r="1.87" fill="rgb(70,150,60)" fill-opacity="0.09"/><circle cx="60" cy="47" r="1.27" fill="rgb(70,150,60)" fill-opacity="0.08"/><circle cx="8" cy="31" r="1.27" fill="rgb(70,150,60)" fill-opacity="0.06"/><circle cx="22" cy="17" r="1.02" fill="rgb(70,150,60)" fill-opacity="0.08"/></g>
<rect x="0.3" y="0.3" width="61.6" height="61.2" fill="none" stroke="#0a0a08" stroke-width="0.6"/>
</g></g>
<text x="317.2" y="164.7" font-size="8.0" textLength="20.2" lengthAdjust="spacingAndGlyphs" fill="#fff" style="stroke:#fff">20 µm</text>
<rect x="316.0" y="166.8" width="22.8" height="1.3" fill="#fff"/>
<text x="347.8" y="25.0" font-size="8.5" text-anchor="middle" textLength="21.5" lengthAdjust="spacingAndGlyphs" fill="#000">AF647</text>
<text x="347.9" y="34.6" font-size="8.5" text-anchor="middle" textLength="38.6" lengthAdjust="spacingAndGlyphs" fill="#000">annexin A5</text>
<text x="413.7" y="25.0" font-size="8.5" text-anchor="middle" textLength="23.8" lengthAdjust="spacingAndGlyphs" fill="#000">OG488</text>
<text x="413.1" y="34.6" font-size="8.5" text-anchor="middle" textLength="46" lengthAdjust="spacingAndGlyphs" fill="#000">Pro-thrombin</text>
<text x="480.9" y="34.6" font-size="8.5" text-anchor="middle" textLength="25.7" lengthAdjust="spacingAndGlyphs" fill="#000">Overlay</text>
<text x="311.0" y="45.9" font-size="8.5" text-anchor="end" textLength="24.6" lengthAdjust="spacingAndGlyphs" fill="#000">Vehicle</text>
<text x="311.0" y="115.1" font-size="8.5" text-anchor="end" textLength="12.1" lengthAdjust="spacingAndGlyphs" fill="#000">GW</text>
<path d="M327.1 337.5L327.1 469.15" stroke="#202020" stroke-width="1.55"/>
<path d="M326.40000000000003 468.4L508.8 468.4" stroke="#202020" stroke-width="1.5"/>
<path d="M323.8 468.4L327.1 468.4" stroke="#202020" stroke-width="1.3"/>
<text x="321.1" y="471.4" font-size="8.8" text-anchor="end" textLength="4.28" lengthAdjust="spacingAndGlyphs" fill="#000">0</text>
<path d="M323.8 442.71999999999997L327.1 442.71999999999997" stroke="#202020" stroke-width="1.3"/>
<text x="321.1" y="445.71999999999997" font-size="8.8" text-anchor="end" textLength="8.56" lengthAdjust="spacingAndGlyphs" fill="#000">20</text>
<path d="M323.8 417.03999999999996L327.1 417.03999999999996" stroke="#202020" stroke-width="1.3"/>
<text x="321.1" y="420.03999999999996" font-size="8.8" text-anchor="end" textLength="8.56" lengthAdjust="spacingAndGlyphs" fill="#000">40</text>
<path d="M323.8 391.35999999999996L327.1 391.35999999999996" stroke="#202020" stroke-width="1.3"/>
<text x="321.1" y="394.35999999999996" font-size="8.8" text-anchor="end" textLength="8.56" lengthAdjust="spacingAndGlyphs" fill="#000">60</text>
<path d="M323.8 365.67999999999995L327.1 365.67999999999995" stroke="#202020" stroke-width="1.3"/>
<text x="321.1" y="368.67999999999995" font-size="8.8" text-anchor="end" textLength="8.56" lengthAdjust="spacingAndGlyphs" fill="#000">80</text>
<path d="M323.8 340.0L327.1 340.0" stroke="#202020" stroke-width="1.3"/>
<text x="321.1" y="343.0" font-size="8.8" text-anchor="end" textLength="12.84" lengthAdjust="spacingAndGlyphs" fill="#000">100</text>
<path d="M327.1 468.4L327.1 471.5" stroke="#202020" stroke-width="1.15"/>
<text x="327.1" y="482.09999999999997" font-size="8.8" text-anchor="middle" textLength="4.28" lengthAdjust="spacingAndGlyphs" fill="#000">0</text>
<path d="M362.78000000000003 468.4L362.78000000000003 471.5" stroke="#202020" stroke-width="1.15"/>
<text x="362.78000000000003" y="482.09999999999997" font-size="8.8" text-anchor="middle" textLength="12.84" lengthAdjust="spacingAndGlyphs" fill="#000">100</text>
<path d="M398.46000000000004 468.4L398.46000000000004 471.5" stroke="#202020" stroke-width="1.15"/>
<text x="398.46000000000004" y="482.09999999999997" font-size="8.8" text-anchor="middle" textLength="12.84" lengthAdjust="spacingAndGlyphs" fill="#000">200</text>
<path d="M434.14000000000004 468.4L434.14000000000004 471.5" stroke="#202020" stroke-width="1.15"/>
<text x="434.14000000000004" y="482.09999999999997" font-size="8.8" text-anchor="middle" textLength="12.84" lengthAdjust="spacingAndGlyphs" fill="#000">300</text>
<path d="M469.82000000000005 468.4L469.82000000000005 471.5" stroke="#202020" stroke-width="1.15"/>
<text x="469.82000000000005" y="482.09999999999997" font-size="8.8" text-anchor="middle" textLength="12.84" lengthAdjust="spacingAndGlyphs" fill="#000">400</text>
<path d="M505.5 468.4L505.5 471.5" stroke="#202020" stroke-width="1.15"/>
<text x="505.5" y="482.09999999999997" font-size="8.8" text-anchor="middle" textLength="12.84" lengthAdjust="spacingAndGlyphs" fill="#000">500</text>
<text x="418.0" y="495.2" font-size="9.0" text-anchor="middle" textLength="32" lengthAdjust="spacingAndGlyphs" fill="#000">Time (s)</text>
<text x="279.0" y="402.8" font-size="9.3" text-anchor="middle" textLength="40.5" lengthAdjust="spacingAndGlyphs" transform="rotate(-90 279.0 402.8)" fill="#000">Thrombin</text>
<text x="290.3" y="403.0" font-size="9.3" text-anchor="middle" textLength="93.5" lengthAdjust="spacingAndGlyphs" transform="rotate(-90 290.3 403.0)" fill="#000">(fluorescence intensity</text>
<text x="300.8" y="402.7" font-size="9.3" text-anchor="middle" textLength="117.5" lengthAdjust="spacingAndGlyphs" transform="rotate(-90 300.8 402.7)" fill="#000">corrected for thrombus SAC)</text>
<path d="M337.80 454.50V453.00M336.00 453.00H339.60" stroke="#2A4A85" stroke-width="0.95" fill="none"/>
<path d="M348.51 442.50V440.50M346.71 440.50H350.31" stroke="#2A4A85" stroke-width="0.95" fill="none"/>
<path d="M359.21 429.25V427.00M357.41 427.00H361.01" stroke="#2A4A85" stroke-width="0.95" fill="none"/>
<path d="M369.92 416.25V414.00M368.12 414.00H371.72" stroke="#2A4A85" stroke-width="0.95" fill="none"/>
<path d="M380.62 403.00V399.00M378.82 399.00H382.42" stroke="#2A4A85" stroke-width="0.95" fill="none"/>
<path d="M391.32 395.75V391.25M389.52 391.25H393.12" stroke="#2A4A85" stroke-width="0.95" fill="none"/>
<path d="M402.03 390.25V381.75M400.23 381.75H403.83" stroke="#2A4A85" stroke-width="0.95" fill="none"/>
<path d="M412.73 387.50V377.00M410.93 377.00H414.53" stroke="#2A4A85" stroke-width="0.95" fill="none"/>
<path d="M423.44 385.75V373.75M421.64 373.75H425.24" stroke="#2A4A85" stroke-width="0.95" fill="none"/>
<path d="M434.14 385.00V372.75M432.34 372.75H435.94" stroke="#2A4A85" stroke-width="0.95" fill="none"/>
<path d="M444.84 384.75V372.50M443.04 372.50H446.64" stroke="#2A4A85" stroke-width="0.95" fill="none"/>
<path d="M455.55 384.25V372.50M453.75 372.50H457.35" stroke="#2A4A85" stroke-width="0.95" fill="none"/>
<path d="M466.25 384.00V372.50M464.45 372.50H468.05" stroke="#2A4A85" stroke-width="0.95" fill="none"/>
<path d="M476.96 383.50V372.50M475.16 372.50H478.76" stroke="#2A4A85" stroke-width="0.95" fill="none"/>
<path d="M487.66 383.00V372.50M485.86 372.50H489.46" stroke="#2A4A85" stroke-width="0.95" fill="none"/>
<path d="M498.36 382.50V372.50M496.56 372.50H500.16" stroke="#2A4A85" stroke-width="0.95" fill="none"/>
<path d="M327.10 462.00L337.80 454.50L348.51 442.50L359.21 429.25L369.92 416.25L380.62 403.00L391.32 395.75L402.03 390.25L412.73 387.50L423.44 385.75L434.14 385.00L444.84 384.75L455.55 384.25L466.25 384.00L476.96 383.50L487.66 383.00L498.36 382.50" stroke="#2A4A85" stroke-width="1.5" fill="none" stroke-linejoin="round"/>
<rect x="325.55" y="460.45" width="3.1" height="3.1" fill="#2A4A85"/>
<rect x="336.25" y="452.95" width="3.1" height="3.1" fill="#2A4A85"/>
<rect x="346.96" y="440.95" width="3.1" height="3.1" fill="#2A4A85"/>
<rect x="357.66" y="427.70" width="3.1" height="3.1" fill="#2A4A85"/>
<rect x="368.37" y="414.70" width="3.1" height="3.1" fill="#2A4A85"/>
<rect x="379.07" y="401.45" width="3.1" height="3.1" fill="#2A4A85"/>
<rect x="389.77" y="394.20" width="3.1" height="3.1" fill="#2A4A85"/>
<rect x="400.48" y="388.70" width="3.1" height="3.1" fill="#2A4A85"/>
<rect x="411.18" y="385.95" width="3.1" height="3.1" fill="#2A4A85"/>
<rect x="421.89" y="384.20" width="3.1" height="3.1" fill="#2A4A85"/>
<rect x="432.59" y="383.45" width="3.1" height="3.1" fill="#2A4A85"/>
<rect x="443.29" y="383.20" width="3.1" height="3.1" fill="#2A4A85"/>
<rect x="454.00" y="382.70" width="3.1" height="3.1" fill="#2A4A85"/>
<rect x="464.70" y="382.45" width="3.1" height="3.1" fill="#2A4A85"/>
<rect x="475.41" y="381.95" width="3.1" height="3.1" fill="#2A4A85"/>
<rect x="486.11" y="381.45" width="3.1" height="3.1" fill="#2A4A85"/>
<rect x="496.81" y="380.95" width="3.1" height="3.1" fill="#2A4A85"/>
<path d="M327.10 460.75V459.50M325.30 459.50H328.90" stroke="#B3103A" stroke-width="0.95" fill="none"/>
<path d="M337.80 452.00V449.00M336.00 449.00H339.60" stroke="#B3103A" stroke-width="0.95" fill="none"/>
<path d="M348.51 439.50V433.50M346.71 433.50H350.31" stroke="#B3103A" stroke-width="0.95" fill="none"/>
<path d="M359.21 421.50V411.50M357.41 411.50H361.01" stroke="#B3103A" stroke-width="0.95" fill="none"/>
<path d="M369.92 404.25V392.00M368.12 392.00H371.72" stroke="#B3103A" stroke-width="0.95" fill="none"/>
<path d="M380.62 387.00V374.50M378.82 374.50H382.42" stroke="#B3103A" stroke-width="0.95" fill="none"/>
<path d="M391.32 373.75V363.75M389.52 363.75H393.12" stroke="#B3103A" stroke-width="0.95" fill="none"/>
<path d="M402.03 365.75V356.25M400.23 356.25H403.83" stroke="#B3103A" stroke-width="0.95" fill="none"/>
<path d="M412.73 361.75V352.00M410.93 352.00H414.53" stroke="#B3103A" stroke-width="0.95" fill="none"/>
<path d="M423.44 359.00V349.00M421.64 349.00H425.24" stroke="#B3103A" stroke-width="0.95" fill="none"/>
<path d="M434.14 357.50V346.25M432.34 346.25H435.94" stroke="#B3103A" stroke-width="0.95" fill="none"/>
<path d="M444.84 356.75V344.50M443.04 344.50H446.64" stroke="#B3103A" stroke-width="0.95" fill="none"/>
<path d="M455.55 356.50V344.25M453.75 344.25H457.35" stroke="#B3103A" stroke-width="0.95" fill="none"/>
<path d="M466.25 356.50V344.25M464.45 344.25H468.05" stroke="#B3103A" stroke-width="0.95" fill="none"/>
<path d="M476.96 356.50V344.25M475.16 344.25H478.76" stroke="#B3103A" stroke-width="0.95" fill="none"/>
<path d="M487.66 356.50V344.25M485.86 344.25H489.46" stroke="#B3103A" stroke-width="0.95" fill="none"/>
<path d="M498.36 356.50V344.25M496.56 344.25H500.16" stroke="#B3103A" stroke-width="0.95" fill="none"/>
<path d="M327.10 460.75L337.80 452.00L348.51 439.50L359.21 421.50L369.92 404.25L380.62 387.00L391.32 373.75L402.03 365.75L412.73 361.75L423.44 359.00L434.14 357.50L444.84 356.75L455.55 356.50L466.25 356.50L476.96 356.50L487.66 356.50L498.36 356.50" stroke="#B3103A" stroke-width="1.5" fill="none" stroke-linejoin="round"/>
<circle cx="327.10" cy="460.75" r="1.7" fill="#B3103A"/>
<circle cx="337.80" cy="452.00" r="1.7" fill="#B3103A"/>
<circle cx="348.51" cy="439.50" r="1.7" fill="#B3103A"/>
<circle cx="359.21" cy="421.50" r="1.7" fill="#B3103A"/>
<circle cx="369.92" cy="404.25" r="1.7" fill="#B3103A"/>
<circle cx="380.62" cy="387.00" r="1.7" fill="#B3103A"/>
<circle cx="391.32" cy="373.75" r="1.7" fill="#B3103A"/>
<circle cx="402.03" cy="365.75" r="1.7" fill="#B3103A"/>
<circle cx="412.73" cy="361.75" r="1.7" fill="#B3103A"/>
<circle cx="423.44" cy="359.00" r="1.7" fill="#B3103A"/>
<circle cx="434.14" cy="357.50" r="1.7" fill="#B3103A"/>
<circle cx="444.84" cy="356.75" r="1.7" fill="#B3103A"/>
<circle cx="455.55" cy="356.50" r="1.7" fill="#B3103A"/>
<circle cx="466.25" cy="356.50" r="1.7" fill="#B3103A"/>
<circle cx="476.96" cy="356.50" r="1.7" fill="#B3103A"/>
<circle cx="487.66" cy="356.50" r="1.7" fill="#B3103A"/>
<circle cx="498.36" cy="356.50" r="1.7" fill="#B3103A"/>
<path d="M498.30 341.40L498.30 340.35M498.30 341.40L499.30 341.08M498.30 341.40L498.92 342.25M498.30 341.40L497.68 342.25M498.30 341.40L497.30 341.08" stroke="#222" stroke-width="0.6" stroke-linecap="round" fill="none"/><circle cx="498.30" cy="341.40" r="0.55" fill="#222"/>
<path d="M331.0 340.5L340.6 340.5" stroke="#B3103A" stroke-width="1.3"/>
<circle cx="335.7" cy="340.5" r="1.5" fill="#B3103A"/>
<text x="343.8" y="343.1" font-size="8.0" textLength="22.7" lengthAdjust="spacingAndGlyphs" fill="#000">Vehicle</text>
<path d="M331.0 350.9L340.6 350.9" stroke="#2A4A85" stroke-width="1.3"/>
<rect x="334.3" y="349.5" width="2.8" height="2.8" fill="#2A4A85"/>
<text x="343.8" y="353.4" font-size="8.0" textLength="11.4" lengthAdjust="spacingAndGlyphs" fill="#000">GW</text>
<path d="M220.25 652.8L223.55 652.8" stroke="#202020" stroke-width="1.3"/>
<text x="217.55" y="655.8" font-size="8.8" text-anchor="end" textLength="4.28" lengthAdjust="spacingAndGlyphs" fill="#000">0</text>
<path d="M220.25 630.54L223.55 630.54" stroke="#202020" stroke-width="1.3"/>
<text x="217.55" y="633.54" font-size="8.8" text-anchor="end" textLength="8.56" lengthAdjust="spacingAndGlyphs" fill="#000">20</text>
<path d="M220.25 608.28L223.55 608.28" stroke="#202020" stroke-width="1.3"/>
<text x="217.55" y="611.28" font-size="8.8" text-anchor="end" textLength="8.56" lengthAdjust="spacingAndGlyphs" fill="#000">40</text>
<path d="M220.25 586.02L223.55 586.02" stroke="#202020" stroke-width="1.3"/>
<text x="217.55" y="589.02" font-size="8.8" text-anchor="end" textLength="8.56" lengthAdjust="spacingAndGlyphs" fill="#000">60</text>
<path d="M220.25 563.76L223.55 563.76" stroke="#202020" stroke-width="1.3"/>
<text x="217.55" y="566.76" font-size="8.8" text-anchor="end" textLength="8.56" lengthAdjust="spacingAndGlyphs" fill="#000">80</text>
<path d="M220.25 541.5L223.55 541.5" stroke="#202020" stroke-width="1.3"/>
<text x="217.55" y="544.5" font-size="8.8" text-anchor="end" textLength="12.84" lengthAdjust="spacingAndGlyphs" fill="#000">100</text>
<path d="M223.55 652.8L223.55 655.9" stroke="#202020" stroke-width="1.15"/>
<text x="223.55" y="666.3" font-size="8.8" text-anchor="middle" textLength="4.28" lengthAdjust="spacingAndGlyphs" fill="#000">0</text>
<path d="M263.55 652.8L263.55 655.9" stroke="#202020" stroke-width="1.15"/>
<text x="263.55" y="666.3" font-size="8.8" text-anchor="middle" textLength="12.84" lengthAdjust="spacingAndGlyphs" fill="#000">100</text>
<path d="M303.55 652.8L303.55 655.9" stroke="#202020" stroke-width="1.15"/>
<text x="303.55" y="666.3" font-size="8.8" text-anchor="middle" textLength="12.84" lengthAdjust="spacingAndGlyphs" fill="#000">200</text>
<path d="M343.55 652.8L343.55 655.9" stroke="#202020" stroke-width="1.15"/>
<text x="343.55" y="666.3" font-size="8.8" text-anchor="middle" textLength="12.84" lengthAdjust="spacingAndGlyphs" fill="#000">300</text>
<path d="M383.55 652.8L383.55 655.9" stroke="#202020" stroke-width="1.15"/>
<text x="383.55" y="666.3" font-size="8.8" text-anchor="middle" textLength="12.84" lengthAdjust="spacingAndGlyphs" fill="#000">400</text>
<path d="M423.55 652.8L423.55 655.9" stroke="#202020" stroke-width="1.15"/>
<text x="423.55" y="666.3" font-size="8.8" text-anchor="middle" textLength="12.84" lengthAdjust="spacingAndGlyphs" fill="#000">500</text>
<text x="326.0" y="679.4" font-size="9.0" text-anchor="middle" textLength="32" lengthAdjust="spacingAndGlyphs" fill="#000">Time (s)</text>
<text x="187.8" y="596.9" font-size="9.3" text-anchor="middle" textLength="23" lengthAdjust="spacingAndGlyphs" transform="rotate(-90 187.8 596.9)" fill="#000">Fibrin</text>
<text x="199.2" y="596.0" font-size="9.3" text-anchor="middle" textLength="32" lengthAdjust="spacingAndGlyphs" transform="rotate(-90 199.2 596.0)" fill="#000">(% SAC)</text>
<path d="M224.00 652.87L225.10 652.79L226.20 652.27L227.30 652.22L228.40 652.72L229.50 652.90L230.60 652.23L231.70 652.91L232.80 652.84L233.90 652.59L235.00 652.43L236.10 652.14L237.20 652.08L238.30 652.92L239.40 652.26L240.50 652.68L241.60 652.28L242.70 652.79L243.80 652.59L244.90 652.31L246.00 652.21L247.10 652.70L248.20 652.11L249.30 652.26L250.40 652.55L251.50 652.82L252.60 652.60L253.70 652.30L254.80 652.88L255.90 652.23L257.00 652.06L258.10 652.29L259.20 652.45L260.30 652.10L261.40 652.21L262.50 652.38L263.60 652.56L264.70 652.17L265.80 652.38L266.90 652.85L268.00 652.93L269.10 652.64L270.20 652.67L271.30 652.58L272.40 652.18L273.50 652.08L274.60 652.07L275.70 652.87L276.80 652.68L277.90 652.92L279.00 652.07L280.10 652.62L281.20 652.48L282.30 652.71L283.40 652.34L284.50 652.95L285.60 652.12L286.70 652.54L287.80 652.71L288.90 652.86L290.00 652.71L291.10 652.68L292.20 652.76L293.30 652.87L294.40 652.37L295.50 652.67L296.60 652.86L297.70 652.83L298.80 652.43L299.90 652.76L301.00 652.83L302.10 652.57L303.20 652.61L304.30 652.39L305.40 652.57L306.50 652.60L307.60 652.12L308.70 652.63L309.80 652.94L310.90 652.84L312.00 652.71L313.10 652.40L314.20 652.71L315.30 652.57L316.40 652.45L317.50 652.80L318.60 652.13L319.70 652.73L320.80 652.08L321.90 652.59L323.00 652.48L324.10 652.26L325.20 652.68L326.30 652.50L327.40 652.60L328.50 652.88L329.60 652.28L330.70 652.06L331.80 652.32L332.90 652.66L334.00 652.23L335.10 652.20L336.20 652.87L337.30 652.64L338.40 652.45L339.50 652.85L340.60 652.34L341.70 652.65L342.80 652.23L343.90 652.44L345.00 652.78L346.10 652.87L347.20 652.84L348.30 652.40L349.40 652.57L350.50 652.33L351.60 652.17L352.70 652.50L353.80 652.80L354.90 652.81L356.00 652.69L357.10 652.91L358.20 652.30L359.30 652.20L360.40 652.46L361.50 652.30L362.60 652.24L363.70 652.42L364.80 652.61L365.90 652.49L367.00 652.33L368.10 652.81L369.20 652.93L370.30 652.46L371.40 652.12L372.50 652.08L373.60 652.84L374.70 652.09L375.80 652.69L376.90 652.56L378.00 652.33L379.10 650.36L380.20 649.67L381.30 649.77L382.40 650.06L383.50 649.67L384.60 650.40L385.70 649.86L386.80 649.78L387.90 649.69L389.00 650.22L390.10 650.05L391.20 650.22L392.30 650.24L393.40 650.38L394.50 650.51L395.60 650.27L396.70 649.83L397.80 650.08L398.90 649.81L400.00 649.66L401.10 650.07L402.10 650.40L402.39 649.83L402.79 649.05L403.26 647.97L403.70 646.50L404.12 644.64L404.56 642.42L404.99 639.84L405.40 636.90L405.79 633.50L406.16 629.68L406.52 625.62L406.90 621.50L407.29 617.35L407.69 613.09L408.09 608.70L408.50 604.20L408.91 599.49L409.33 594.60L409.76 589.71L410.20 585.00L410.66 580.41L411.14 575.87L411.62 571.57L412.10 567.70L412.56 564.33L413.01 561.35L413.48 558.67L414.00 556.20L414.57 553.90L415.19 551.84L415.83 550.03L416.50 548.50L417.19 547.32L417.90 546.46L418.64 545.80L419.40 545.20L420.27 544.66L421.23 544.24L422.10 543.93L422.70 543.70" stroke="#2A4A85" stroke-width="1.5" fill="none" stroke-linejoin="round"/>
<path d="M224.00 652.56L225.10 652.65L226.20 652.98L227.30 652.57L228.40 652.61L229.50 652.68L230.60 652.32L231.70 652.61L232.80 652.72L233.90 652.86L235.00 652.23L236.10 652.42L237.20 652.23L238.30 652.88L239.40 652.77L240.50 652.19L241.60 653.03L242.70 653.02L243.80 652.74L244.90 652.70L246.00 652.29L247.10 652.16L248.20 652.63L249.30 652.20L250.40 652.32L251.50 652.37L252.60 652.18L253.70 652.57L254.80 652.55L255.90 652.89L257.00 652.59L258.10 652.68L259.20 652.54L260.30 652.67L261.40 652.47L262.50 652.29L263.60 652.92L264.70 652.90L265.80 652.74L266.90 652.61L268.00 652.24L269.10 652.15L270.20 652.18L271.30 651.97L272.40 652.58L273.50 652.23L274.60 652.62L275.70 652.19L276.80 652.69L277.90 652.57L279.00 651.79L280.10 651.96L281.20 652.58L282.30 652.17L283.40 652.61L284.50 652.07L285.60 651.76L286.70 652.24L287.80 652.36L288.90 651.89L290.00 651.71L291.10 651.91L292.20 652.46L293.30 652.26L294.40 651.67L295.50 651.77L296.60 651.62L297.70 651.57L298.80 652.21L299.90 651.64L301.00 651.97L302.10 651.85L303.20 651.60L304.30 652.07L305.40 651.51L306.50 651.96L307.60 651.47L308.70 650.83L309.80 650.62L310.90 650.66L312.00 651.27L313.10 651.10L314.20 650.64L315.30 651.15L316.40 650.52L317.50 650.67L318.60 651.07L319.70 650.86L320.80 650.36L321.90 651.14L323.00 651.33L324.10 651.35L325.20 651.80L326.30 651.38L327.40 651.33L328.50 651.12L329.60 651.12L330.70 651.54L331.80 651.22L332.90 651.53L334.00 651.30L335.10 651.36L336.20 651.80L337.30 650.56L338.40 650.62L339.50 650.87L340.60 650.24L341.70 650.19L343.10 649.40L343.32 648.65L343.63 647.60L344.00 646.25L344.40 644.60L344.83 642.67L345.31 640.46L345.80 637.92L346.30 635.00L346.80 631.60L347.32 627.78L347.83 623.72L348.30 619.60L348.71 615.45L349.07 611.19L349.42 606.80L349.80 602.30L350.20 597.54L350.62 592.58L351.05 587.68L351.50 583.10L351.98 578.89L352.49 574.92L353.00 571.19L353.50 567.70L353.99 564.40L354.48 561.29L354.96 558.52L355.40 556.20L355.80 554.46L356.17 553.21L356.53 552.22L356.90 551.30L357.33 550.39L357.79 549.59L358.21 548.95L358.50 548.50" stroke="#B3103A" stroke-width="1.5" fill="none" stroke-linejoin="round"/>
<path d="M223.55 538.0L223.55 653.55" stroke="#202020" stroke-width="1.55"/>
<path d="M222.85000000000002 652.8L426.8 652.8" stroke="#202020" stroke-width="1.5"/>
<path d="M437.1 553.0L448.8 553.0" stroke="#B3103A" stroke-width="1.5"/>
<text x="452.4" y="555.7" font-size="8.0" textLength="22.8" lengthAdjust="spacingAndGlyphs" fill="#000">Vehicle</text>
<path d="M437.1 565.8L448.8 565.8" stroke="#2A4A85" stroke-width="1.5"/>
<text x="452.4" y="568.5" font-size="8.0" textLength="11.4" lengthAdjust="spacingAndGlyphs" fill="#000">GW</text>
</svg>
</body></html>
